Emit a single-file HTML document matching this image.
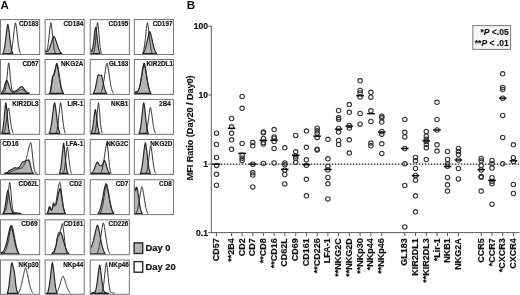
<!DOCTYPE html>
<html><head><meta charset="utf-8"><title>Figure</title>
<style>
html,body{margin:0;padding:0;background:#fff;}
body{width:520px;height:295px;overflow:hidden;font-family:"Liberation Sans",sans-serif;}
svg{display:block;}
</style></head><body>
<svg width="520" height="295" viewBox="0 0 520 295">
<defs><filter id="bl" x="0" y="0" width="520" height="295" filterUnits="userSpaceOnUse"><feGaussianBlur stdDeviation="0.4"/></filter></defs>
<g filter="url(#bl)">
<rect x="0" y="0" width="520" height="295" fill="#fff"/>
<g>
<rect x="0.55" y="19.60" width="39.10" height="34.90" fill="#fff" stroke="#757575" stroke-width="1"/>
<clipPath id="c0_0"><rect x="0.95" y="20.00" width="38.30" height="34.10"/></clipPath>
<g clip-path="url(#c0_0)">
<path d="M2.80 53.50L2.80 53.50L3.05 52.89L3.30 52.42L3.55 51.76L3.80 50.94L4.05 49.97L4.30 48.83L4.55 47.52L4.80 46.02L5.05 44.34L5.30 42.50L5.55 40.52L5.80 38.42L6.05 36.26L6.30 34.10L6.55 31.99L6.80 30.00L7.05 28.20L7.30 26.65L7.55 25.39L7.80 24.46L8.05 24.98L8.30 26.11L8.55 27.55L8.80 29.25L9.05 31.17L9.30 33.24L9.55 35.39L9.80 37.56L10.05 39.69L10.30 41.72L10.55 43.63L10.80 45.37L11.05 46.94L11.30 48.33L11.55 49.54L11.80 50.58L12.05 51.45L12.30 52.17L12.55 52.73L12.80 53.50L12.80 53.50Z" fill="#b4b4b4" stroke="#222" stroke-width="1.15" stroke-linejoin="round"/>
<path d="M10.55 53.50L10.80 52.58L11.05 51.95L11.30 51.15L11.55 50.18L11.80 49.04L12.05 47.72L12.30 46.21L12.55 44.50L12.80 42.61L13.05 40.56L13.30 38.37L13.55 36.10L13.80 33.79L14.05 31.51L14.30 29.34L14.55 27.34L14.80 25.58L15.05 24.11L15.30 22.98L15.55 22.80L15.80 23.86L16.05 25.26L16.30 26.97L16.55 28.92L16.80 31.07L17.05 33.33L17.30 35.64L17.55 37.92L17.80 40.13L18.05 42.21L18.30 44.14L18.55 45.88L18.80 47.43L19.05 48.79L19.30 49.97L19.55 50.97L19.80 51.80L20.05 52.47L20.30 53.50" fill="none" stroke="#262626" stroke-width="0.95" stroke-linejoin="round"/>
</g>
<text x="38.65" y="26.20" font-family="Liberation Sans, sans-serif" font-weight="bold" font-size="6.35" fill="#111" stroke="#111" stroke-width="0.15" text-anchor="end">CD183</text>
<rect x="45.15" y="19.60" width="39.10" height="34.90" fill="#fff" stroke="#757575" stroke-width="1"/>
<clipPath id="c1_0"><rect x="45.55" y="20.00" width="38.30" height="34.10"/></clipPath>
<g clip-path="url(#c1_0)">
<path d="M45.15 53.50L45.15 50.43L45.40 50.55L45.65 50.73L45.90 50.96L46.15 51.23L46.40 51.05L46.65 51.15L46.90 51.20L47.15 51.21L47.40 51.15L47.65 51.02L47.90 50.83L48.15 50.57L48.40 50.24L48.65 49.85L48.90 49.44L49.15 48.86L49.40 48.25L49.65 47.60L49.90 46.92L50.15 46.20L50.40 45.46L50.65 44.70L50.90 43.92L51.15 43.14L51.40 42.35L51.65 41.58L51.90 40.83L52.15 40.11L52.40 39.42L52.65 38.79L52.90 38.21L53.15 37.69L53.40 37.23L53.65 36.86L53.90 36.55L54.15 36.73L54.40 37.07L54.65 37.50L54.90 37.99L55.15 38.55L55.40 39.16L55.65 39.83L55.90 40.54L56.15 41.28L56.40 42.04L56.65 42.82L56.90 43.61L57.15 44.39L57.40 45.16L57.65 45.91L57.90 46.64L58.15 47.33L58.40 48.00L58.65 48.62L58.90 49.21L59.15 49.76L59.40 50.27L59.65 50.74L59.90 51.16L60.15 51.55L60.40 51.90L60.65 52.22L60.90 52.50L61.15 52.75L61.40 52.96L61.65 53.13L61.90 53.50L61.90 53.50Z" fill="#b4b4b4" stroke="#222" stroke-width="1.15" stroke-linejoin="round"/>
<path d="M45.15 51.45L45.40 51.56L45.65 51.71L45.90 51.91L46.15 52.14L46.40 51.66L46.65 51.30L46.90 50.71L47.15 49.91L47.40 48.88L47.65 47.61L47.90 46.10L48.15 44.34L48.40 42.36L48.65 40.14L48.90 37.78L49.15 35.33L49.40 32.87L49.65 30.48L49.90 28.24L50.15 26.24L50.40 24.55L50.65 23.23L50.90 22.64L51.15 23.71L51.40 25.18L51.65 27.00L51.90 29.11L52.15 31.42L52.40 33.85L52.65 36.32L52.90 38.74L53.15 41.05L53.40 43.20L53.65 45.16L53.90 46.90L54.15 48.42L54.40 49.73L54.65 50.83L54.90 51.74L55.15 52.46L55.40 53.50" fill="none" stroke="#262626" stroke-width="0.95" stroke-linejoin="round"/>
</g>
<text x="83.25" y="26.20" font-family="Liberation Sans, sans-serif" font-weight="bold" font-size="6.35" fill="#111" stroke="#111" stroke-width="0.15" text-anchor="end">CD184</text>
<rect x="90.25" y="19.60" width="39.10" height="34.90" fill="#fff" stroke="#757575" stroke-width="1"/>
<clipPath id="c2_0"><rect x="90.65" y="20.00" width="38.30" height="34.10"/></clipPath>
<g clip-path="url(#c2_0)">
<path d="M90.25 53.50L90.25 49.93L90.50 49.46L90.75 49.71L91.00 50.32L91.25 51.09L91.50 51.26L91.75 51.36L92.00 51.09L92.25 50.48L92.50 49.57L92.75 48.23L93.00 46.69L93.25 44.93L93.50 42.97L93.75 40.86L94.00 38.64L94.25 36.38L94.50 34.18L94.75 32.11L95.00 30.27L95.25 28.75L95.50 27.59L95.75 27.40L96.00 28.48L96.25 29.94L96.50 31.72L96.75 33.75L97.00 35.94L97.25 38.19L97.50 40.42L97.75 42.56L98.00 44.55L98.25 46.35L98.50 47.94L98.75 49.32L99.00 50.48L99.25 51.45L99.50 52.23L99.75 52.82L100.00 53.50L100.00 53.50Z" fill="#b4b4b4" stroke="#222" stroke-width="1.15" stroke-linejoin="round"/>
<path d="M93.50 53.50L93.75 52.70L94.00 51.94L94.25 50.92L94.50 49.64L94.75 48.09L95.00 46.24L95.25 44.09L95.50 41.66L95.75 39.01L96.00 36.19L96.25 33.31L96.50 30.49L96.75 27.88L97.00 25.60L97.25 23.77L97.50 22.46L97.75 23.18L98.00 24.81L98.25 26.92L98.50 29.42L98.75 32.17L99.00 35.03L99.25 37.89L99.50 40.63L99.75 43.15L100.00 45.41L100.25 47.38L100.50 49.05L100.75 50.44L101.00 51.57L101.25 52.43L101.50 53.50" fill="none" stroke="#262626" stroke-width="0.95" stroke-linejoin="round"/>
</g>
<text x="128.35" y="26.20" font-family="Liberation Sans, sans-serif" font-weight="bold" font-size="6.35" fill="#111" stroke="#111" stroke-width="0.15" text-anchor="end">CD195</text>
<rect x="134.35" y="19.60" width="39.10" height="34.90" fill="#fff" stroke="#757575" stroke-width="1"/>
<clipPath id="c3_0"><rect x="134.75" y="20.00" width="38.30" height="34.10"/></clipPath>
<g clip-path="url(#c3_0)">
<path d="M142.85 53.50L142.85 53.50L143.10 53.04L143.35 52.79L143.60 52.47L143.85 52.08L144.10 51.63L144.35 51.13L144.60 50.55L144.85 49.91L145.10 49.21L145.35 48.43L145.60 47.57L145.85 46.65L146.10 45.67L146.35 44.62L146.60 43.53L146.85 42.39L147.10 41.22L147.35 40.04L147.60 38.86L147.85 37.71L148.10 36.59L148.35 35.54L148.60 34.56L148.85 33.68L149.10 32.91L149.35 32.26L149.60 31.73L149.85 31.65L150.10 32.14L150.35 32.77L150.60 33.52L150.85 34.38L151.10 35.34L151.35 36.38L151.60 37.48L151.85 38.63L152.10 39.80L152.35 40.98L152.60 42.16L152.85 43.30L153.10 44.41L153.35 45.46L153.60 46.46L153.85 47.40L154.10 48.26L154.35 49.05L154.60 49.78L154.85 50.43L155.10 51.02L155.35 51.54L155.60 52.00L155.85 52.39L156.10 52.73L156.35 53.00L156.60 53.50L156.60 53.50Z" fill="#b4b4b4" stroke="#222" stroke-width="1.15" stroke-linejoin="round"/>
<path d="M142.60 53.50L142.85 52.78L143.10 52.21L143.35 51.44L143.60 50.50L143.85 49.38L144.10 48.07L144.35 46.55L144.60 44.82L144.85 42.90L145.10 40.80L145.35 38.55L145.60 36.20L145.85 33.82L146.10 31.47L146.35 29.23L146.60 27.18L146.85 25.38L147.10 23.91L147.35 22.81L147.60 23.00L147.85 24.18L148.10 25.72L148.35 27.57L148.60 29.66L148.85 31.93L149.10 34.30L149.35 36.68L149.60 39.01L149.85 41.23L150.10 43.30L150.35 45.18L150.60 46.87L150.85 48.34L151.10 49.62L151.35 50.71L151.60 51.61L151.85 52.34L152.10 53.50" fill="none" stroke="#262626" stroke-width="0.95" stroke-linejoin="round"/>
</g>
<text x="172.45" y="26.20" font-family="Liberation Sans, sans-serif" font-weight="bold" font-size="6.35" fill="#111" stroke="#111" stroke-width="0.15" text-anchor="end">CD197</text>
<rect x="0.55" y="59.50" width="39.10" height="34.90" fill="#fff" stroke="#757575" stroke-width="1"/>
<clipPath id="c0_1"><rect x="0.95" y="59.90" width="38.30" height="34.10"/></clipPath>
<g clip-path="url(#c0_1)">
<path d="M1.30 93.40L1.30 93.35L1.55 92.97L1.80 92.72L2.05 92.42L2.30 92.05L2.55 91.63L2.80 91.15L3.05 90.60L3.30 89.98L3.55 89.30L3.80 88.56L4.05 87.76L4.30 86.92L4.55 86.04L4.80 85.15L5.05 84.27L5.30 83.41L5.55 82.60L5.80 81.86L6.05 81.21L6.30 80.67L6.55 80.24L6.80 80.25L7.05 80.61L7.30 81.07L7.55 81.64L7.80 82.30L8.05 83.02L8.30 83.79L8.55 84.58L8.80 85.38L9.05 86.15L9.30 86.90L9.55 87.60L9.80 88.24L10.05 88.83L10.30 89.35L10.55 89.81L10.80 90.21L11.05 90.55L11.30 90.83L11.55 91.06L11.80 91.23L12.05 91.53L12.30 91.49L12.55 91.46L12.80 91.42L13.05 91.40L13.30 91.37L13.55 91.35L13.80 91.37L14.05 91.40L14.30 91.28L14.55 91.24L14.80 91.19L15.05 91.12L15.30 91.05L15.55 90.97L15.80 90.87L16.05 90.76L16.30 90.64L16.55 90.50L16.80 90.35L17.05 90.18L17.30 90.00L17.55 89.81L17.80 89.60L18.05 89.38L18.30 89.14L18.55 88.90L18.80 88.66L19.05 88.41L19.30 88.17L19.55 87.92L19.80 87.69L20.05 87.47L20.30 87.27L20.55 87.08L20.80 86.92L21.05 86.78L21.30 86.67L21.55 86.59L21.80 86.65L22.05 86.82L22.30 87.02L22.55 87.25L22.80 87.50L23.05 87.77L23.30 88.06L23.55 88.36L23.80 88.68L24.05 89.00L24.30 89.33L24.55 89.66L24.80 89.98L25.05 90.30L25.30 90.60L25.55 90.89L25.80 91.17L26.05 91.47L26.30 91.71L26.55 91.93L26.80 92.13L27.05 92.32L27.30 92.49L27.55 92.64L27.80 92.78L28.05 92.91L28.30 93.02L28.55 93.11L28.80 93.20L29.05 93.26L29.05 93.40Z" fill="#b4b4b4" stroke="#222" stroke-width="1.15" stroke-linejoin="round"/>
<path d="M1.55 93.31L1.80 93.24L2.05 93.16L2.30 93.03L2.55 92.90L2.80 92.76L3.05 92.59L3.30 92.40L3.55 92.18L3.80 91.96L4.05 91.71L4.30 91.46L4.55 91.21L4.80 90.96L5.05 90.09L5.30 89.20L5.55 88.06L5.80 86.69L6.05 85.07L6.30 83.35L6.55 81.36L6.80 79.13L7.05 76.68L7.30 74.11L7.55 71.51L7.80 69.01L8.05 66.74L8.30 64.83L8.55 63.40L8.80 62.85L9.05 64.28L9.30 66.22L9.55 68.58L9.80 71.24L10.05 74.07L10.30 76.91L10.55 79.64L10.80 82.22L11.05 84.45L11.30 86.38L11.55 88.02L11.80 89.37L12.05 90.45L12.30 91.26L12.55 92.24L12.80 92.21L13.05 92.18L13.30 92.16L13.55 92.14L13.80 92.12L14.05 92.01L14.30 91.96L14.55 91.91L14.80 91.87L15.05 91.84L15.30 91.79L15.55 91.75L15.80 91.70L16.05 91.64L16.30 91.58L16.55 91.51L16.80 91.44L17.05 91.37L17.30 91.28L17.55 91.20L17.80 91.10L18.05 91.01L18.30 90.90L18.55 90.80L18.80 90.69L19.05 90.59L19.30 90.48L19.55 90.38L19.80 90.27L20.05 90.18L20.30 90.09L20.55 90.00L20.80 89.93L21.05 89.86L21.30 89.81L21.55 89.77L21.80 89.74L22.05 89.76L22.30 89.85L22.55 89.95L22.80 90.06L23.05 90.18L23.30 90.31L23.55 90.45L23.80 90.60L24.05 90.76L24.30 90.91L24.55 91.07L24.80 91.24L25.05 91.40L25.30 91.56L25.55 91.71L25.80 91.87L26.05 92.01L26.30 92.15L26.55 92.29L26.80 92.41L27.05 92.55L27.30 92.66L27.55 92.75L27.80 92.84L28.05 92.92L28.30 93.00L28.55 93.06L28.80 93.13L29.05 93.18L29.30 93.23L29.55 93.27" fill="none" stroke="#262626" stroke-width="0.95" stroke-linejoin="round"/>
</g>
<text x="38.65" y="66.10" font-family="Liberation Sans, sans-serif" font-weight="bold" font-size="6.35" fill="#111" stroke="#111" stroke-width="0.15" text-anchor="end">CD57</text>
<rect x="45.15" y="59.50" width="39.10" height="34.90" fill="#fff" stroke="#757575" stroke-width="1"/>
<clipPath id="c1_1"><rect x="45.55" y="59.90" width="38.30" height="34.10"/></clipPath>
<g clip-path="url(#c1_1)">
<path d="M49.15 93.40L49.15 93.40L49.40 93.17L49.65 92.89L49.90 92.48L50.15 91.95L50.40 90.46L50.65 89.25L50.90 87.81L51.15 86.20L51.40 84.45L51.65 82.64L51.90 80.84L52.15 79.12L52.40 77.53L52.65 76.64L52.90 76.02L53.15 75.52L53.40 75.06L53.65 74.58L53.90 74.03L54.15 73.36L54.40 72.55L54.65 71.62L54.90 70.58L55.15 69.47L55.40 68.33L55.65 67.30L55.90 66.07L56.15 65.01L56.40 64.12L56.65 63.42L56.90 63.54L57.15 64.28L57.40 65.21L57.65 66.30L57.90 67.56L58.15 68.94L58.40 70.44L58.65 72.01L58.90 73.65L59.15 75.30L59.40 76.96L59.65 78.59L59.90 80.17L60.15 81.69L60.40 83.13L60.65 84.49L60.90 85.74L61.15 86.90L61.40 87.95L61.65 88.90L61.90 89.75L62.15 90.51L62.40 91.18L62.65 91.76L62.90 92.25L63.15 92.65L63.40 93.40L63.40 93.40Z" fill="#b4b4b4" stroke="#222" stroke-width="1.15" stroke-linejoin="round"/>
<path d="M49.65 93.40L49.90 93.07L50.15 92.68L50.40 92.15L50.65 90.73L50.90 89.46L51.15 87.93L51.40 86.19L51.65 84.31L51.90 82.38L52.15 80.51L52.40 78.78L52.65 77.55L52.90 76.97L53.15 76.55L53.40 76.21L53.65 75.85L53.90 75.39L54.15 74.76L54.40 73.95L54.65 72.96L54.90 71.84L55.15 70.61L55.40 69.46L55.65 68.02L55.90 66.73L56.15 65.61L56.40 64.67L56.65 63.94L56.90 64.07L57.15 64.84L57.40 65.82L57.65 66.97L57.90 68.30L58.15 69.76L58.40 71.33L58.65 72.98L58.90 74.68L59.15 76.39L59.40 78.09L59.65 79.75L59.90 81.35L60.15 82.86L60.40 84.29L60.65 85.61L60.90 86.82L61.15 87.92L61.40 88.91L61.65 89.80L61.90 90.58L62.15 91.27L62.40 91.86L62.65 92.35L62.90 92.73L63.15 93.40" fill="none" stroke="#262626" stroke-width="0.95" stroke-linejoin="round"/>
</g>
<text x="83.25" y="66.10" font-family="Liberation Sans, sans-serif" font-weight="bold" font-size="6.35" fill="#111" stroke="#111" stroke-width="0.15" text-anchor="end">NKG2A</text>
<rect x="90.25" y="59.50" width="39.10" height="34.90" fill="#fff" stroke="#757575" stroke-width="1"/>
<clipPath id="c2_1"><rect x="90.65" y="59.90" width="38.30" height="34.10"/></clipPath>
<g clip-path="url(#c2_1)">
<path d="M93.25 93.40L93.25 93.40L93.50 92.87L93.75 92.52L94.00 92.07L94.25 91.53L94.50 90.90L94.75 90.17L95.00 89.33L95.25 88.38L95.50 87.34L95.75 86.22L96.00 85.04L96.25 83.82L96.50 82.61L96.75 81.06L97.00 79.69L97.25 78.36L97.50 77.10L97.75 75.93L98.00 75.03L98.25 74.86L98.50 74.79L98.75 74.80L99.00 74.86L99.25 74.94L99.50 75.04L99.75 75.13L100.00 75.19L100.25 75.23L100.50 75.26L100.75 75.28L101.00 75.32L101.25 75.40L101.50 75.54L101.75 76.05L102.00 77.07L102.25 78.16L102.50 79.31L102.75 80.68L103.00 81.73L103.25 82.85L103.50 83.99L103.75 85.13L104.00 86.23L104.25 87.29L104.50 88.27L104.75 89.17L105.00 89.98L105.25 90.69L105.50 91.32L105.75 91.85L106.00 92.31L106.25 92.69L106.50 92.98L106.75 93.40L106.75 93.40Z" fill="#b4b4b4" stroke="#222" stroke-width="1.15" stroke-linejoin="round"/>
<path d="M100.50 93.40L100.75 92.78L101.00 92.42L101.25 91.94L101.50 91.36L101.75 90.68L102.00 89.91L102.25 89.03L102.50 88.04L102.75 86.94L103.00 85.73L103.25 84.41L103.50 82.98L103.75 81.45L104.00 79.84L104.25 78.17L104.50 76.45L104.75 74.70L105.00 72.97L105.25 71.28L105.50 69.66L105.75 68.15L106.00 66.78L106.25 65.56L106.50 64.53L106.75 63.70L107.00 63.31L107.25 64.01L107.50 64.92L107.75 66.03L108.00 67.31L108.25 68.74L108.50 70.30L108.75 71.95L109.00 73.66L109.25 75.40L109.50 77.14L109.75 78.84L110.00 80.50L110.25 82.08L110.50 83.56L110.75 84.95L111.00 86.23L111.25 87.39L111.50 88.45L111.75 89.39L112.00 90.23L112.25 90.96L112.50 91.60L112.75 92.14L113.00 92.58L113.25 93.40" fill="none" stroke="#262626" stroke-width="0.95" stroke-linejoin="round"/>
</g>
<text x="128.35" y="66.10" font-family="Liberation Sans, sans-serif" font-weight="bold" font-size="6.35" fill="#111" stroke="#111" stroke-width="0.15" text-anchor="end">GL183</text>
<rect x="134.35" y="59.50" width="39.10" height="34.90" fill="#fff" stroke="#757575" stroke-width="1"/>
<clipPath id="c3_1"><rect x="134.75" y="59.90" width="38.30" height="34.10"/></clipPath>
<g clip-path="url(#c3_1)">
<path d="M134.35 93.40L134.35 92.50L134.60 92.40L134.85 92.31L135.10 92.22L135.35 92.13L135.60 92.05L135.85 91.97L136.10 91.90L136.35 91.84L136.60 91.80L136.85 91.76L137.10 91.80L137.35 91.84L137.60 91.90L137.85 91.07L138.10 90.71L138.35 90.27L138.60 89.74L138.85 89.13L139.10 88.43L139.35 87.63L139.60 86.73L139.85 85.73L140.10 84.62L140.35 83.41L140.60 82.10L140.85 80.69L141.10 79.21L141.35 77.66L141.60 76.07L141.85 74.46L142.10 72.85L142.35 71.27L142.60 69.76L142.85 68.33L143.10 67.04L143.35 65.85L143.60 64.82L143.85 63.96L144.10 63.30L144.35 63.68L144.60 64.45L144.85 65.41L145.10 66.54L145.35 67.82L145.60 69.23L145.85 70.75L146.10 72.34L146.35 73.98L146.60 75.63L146.85 77.29L147.10 78.91L147.35 80.48L147.60 81.99L147.85 83.41L148.10 84.75L148.35 85.98L148.60 87.12L148.85 88.15L149.10 89.08L149.35 89.91L149.60 90.65L149.85 91.30L150.10 91.87L150.35 92.34L150.60 92.71L150.85 93.40L150.85 93.40Z" fill="#b4b4b4" stroke="#222" stroke-width="1.15" stroke-linejoin="round"/>
<path d="M134.35 92.50L134.60 92.40L134.85 92.31L135.10 92.22L135.35 92.13L135.60 92.05L135.85 91.97L136.10 91.90L136.35 91.84L136.60 91.80L136.85 91.76L137.10 91.80L137.35 91.84L137.60 91.90L137.85 91.07L138.10 90.71L138.35 90.27L138.60 89.74L138.85 89.13L139.10 88.43L139.35 87.63L139.60 86.73L139.85 85.73L140.10 84.62L140.35 83.41L140.60 82.10L140.85 80.69L141.10 79.21L141.35 77.66L141.60 76.07L141.85 74.46L142.10 72.85L142.35 71.27L142.60 69.76L142.85 68.33L143.10 67.04L143.35 65.85L143.60 64.82L143.85 63.96L144.10 63.30L144.35 63.68L144.60 64.45L144.85 65.41L145.10 66.54L145.35 67.82L145.60 69.23L145.85 70.75L146.10 72.34L146.35 73.98L146.60 75.63L146.85 77.29L147.10 78.91L147.35 80.48L147.60 81.99L147.85 83.41L148.10 84.75L148.35 85.98L148.60 87.12L148.85 88.15L149.10 89.08L149.35 89.91L149.60 90.65L149.85 91.30L150.10 91.87L150.35 92.34L150.60 92.71L150.85 93.40" fill="none" stroke="#262626" stroke-width="0.95" stroke-linejoin="round"/>
</g>
<text x="172.95" y="66.10" font-family="Liberation Sans, sans-serif" font-weight="bold" font-size="6.35" fill="#111" stroke="#111" stroke-width="0.15" text-anchor="end">KIR2DL1</text>
<rect x="0.55" y="99.40" width="39.10" height="34.90" fill="#fff" stroke="#757575" stroke-width="1"/>
<clipPath id="c0_2"><rect x="0.95" y="99.80" width="38.30" height="34.10"/></clipPath>
<g clip-path="url(#c0_2)">
<path d="M1.80 133.30L1.80 133.30L2.05 132.51L2.30 131.77L2.55 130.77L2.80 129.51L3.05 127.97L3.30 126.16L3.55 124.04L3.80 121.66L4.05 119.04L4.30 116.27L4.55 113.44L4.80 110.67L5.05 108.10L5.30 105.86L5.55 104.06L5.80 102.77L6.05 103.48L6.30 105.08L6.55 107.16L6.80 109.61L7.05 112.32L7.30 115.14L7.55 117.95L7.80 120.64L8.05 123.12L8.30 125.35L8.55 127.28L8.80 128.93L9.05 130.29L9.30 131.40L9.55 132.25L9.80 133.30L9.80 133.30Z" fill="#b4b4b4" stroke="#222" stroke-width="1.15" stroke-linejoin="round"/>
<path d="M3.80 133.30L4.05 132.34L4.30 131.74L4.55 131.00L4.80 130.10L5.05 129.05L5.30 127.83L5.55 126.44L5.80 124.88L6.05 123.18L6.30 121.34L6.55 119.42L6.80 117.46L7.05 115.51L7.30 113.63L7.55 111.90L7.80 110.38L8.05 109.11L8.30 108.13L8.55 107.98L8.80 108.89L9.05 110.10L9.30 111.58L9.55 113.27L9.80 115.12L10.05 117.06L10.30 119.03L10.55 120.97L10.80 122.82L11.05 124.55L11.30 126.14L11.55 127.56L11.80 128.82L12.05 129.90L12.30 130.83L12.55 131.60L12.80 132.23L13.05 132.71L13.30 133.30" fill="none" stroke="#262626" stroke-width="0.95" stroke-linejoin="round"/>
</g>
<text x="38.65" y="106.00" font-family="Liberation Sans, sans-serif" font-weight="bold" font-size="6.35" fill="#111" stroke="#111" stroke-width="0.15" text-anchor="end">KIR2DL3</text>
<rect x="45.15" y="99.40" width="39.10" height="34.90" fill="#fff" stroke="#757575" stroke-width="1"/>
<clipPath id="c1_2"><rect x="45.55" y="99.80" width="38.30" height="34.10"/></clipPath>
<g clip-path="url(#c1_2)">
<path d="M49.15 133.30L49.15 133.30L49.40 132.48L49.65 131.95L49.90 131.27L50.15 130.46L50.40 129.51L50.65 128.42L50.90 127.17L51.15 125.76L51.40 124.19L51.65 122.47L51.90 120.62L52.15 118.66L52.40 116.62L52.65 114.54L52.90 112.46L53.15 110.45L53.40 108.55L53.65 106.82L53.90 105.29L54.15 104.02L54.40 103.03L54.65 102.87L54.90 103.80L55.15 105.02L55.40 106.49L55.65 108.19L55.90 110.06L56.15 112.06L56.40 114.12L56.65 116.20L56.90 118.26L57.15 120.24L57.40 122.11L57.65 123.86L57.90 125.45L58.15 126.90L58.40 128.18L58.65 129.31L58.90 130.29L59.15 131.12L59.40 131.82L59.65 132.39L59.90 133.30L59.90 133.30Z" fill="#b4b4b4" stroke="#222" stroke-width="1.15" stroke-linejoin="round"/>
<path d="M56.15 133.30L56.40 132.14L56.65 131.39L56.90 130.45L57.15 129.32L57.40 127.99L57.65 126.44L57.90 124.67L58.15 122.69L58.40 120.53L58.65 118.21L58.90 115.80L59.15 113.36L59.40 110.97L59.65 108.71L59.90 106.68L60.15 104.94L60.40 103.56L60.65 102.58L60.90 103.56L61.15 104.94L61.40 106.68L61.65 108.71L61.90 110.97L62.15 113.36L62.40 115.80L62.65 118.21L62.90 120.53L63.15 122.69L63.40 124.67L63.65 126.44L63.90 127.99L64.15 129.32L64.40 130.45L64.65 131.39L64.90 132.14L65.15 133.30" fill="none" stroke="#262626" stroke-width="0.95" stroke-linejoin="round"/>
</g>
<text x="83.25" y="106.00" font-family="Liberation Sans, sans-serif" font-weight="bold" font-size="6.35" fill="#111" stroke="#111" stroke-width="0.15" text-anchor="end">LIR-1</text>
<rect x="90.25" y="99.40" width="39.10" height="34.90" fill="#fff" stroke="#757575" stroke-width="1"/>
<clipPath id="c2_2"><rect x="90.65" y="99.80" width="38.30" height="34.10"/></clipPath>
<g clip-path="url(#c2_2)">
<path d="M91.25 133.30L91.25 133.30L91.50 132.48L91.75 131.84L92.00 131.03L92.25 130.02L92.50 128.81L92.75 127.39L93.00 125.76L93.25 123.94L93.50 121.95L93.75 119.86L94.00 117.72L94.25 115.64L94.50 113.69L94.75 111.98L95.00 110.58L95.25 109.54L95.50 109.72L95.75 110.83L96.00 112.30L96.25 114.07L96.50 116.05L96.75 118.15L97.00 120.28L97.25 122.36L97.50 124.32L97.75 126.10L98.00 127.69L98.25 129.07L98.50 130.24L98.75 131.20L99.00 131.99L99.25 132.59L99.50 133.30L99.50 133.30Z" fill="#b4b4b4" stroke="#222" stroke-width="1.15" stroke-linejoin="round"/>
<path d="M94.75 133.30L95.00 132.39L95.25 131.51L95.50 130.33L95.75 128.84L96.00 127.01L96.25 124.85L96.50 122.35L96.75 119.56L97.00 116.56L97.25 113.49L97.50 110.49L97.75 107.73L98.00 105.38L98.25 103.57L98.50 102.79L98.75 104.22L99.00 106.26L99.25 108.79L99.50 111.67L99.75 114.72L100.00 117.78L100.25 120.70L100.50 123.39L100.75 125.76L101.00 127.78L101.25 129.47L101.50 130.83L101.75 131.90L102.00 132.64L102.25 133.30" fill="none" stroke="#262626" stroke-width="0.95" stroke-linejoin="round"/>
</g>
<text x="128.35" y="106.00" font-family="Liberation Sans, sans-serif" font-weight="bold" font-size="6.35" fill="#111" stroke="#111" stroke-width="0.15" text-anchor="end">NKB1</text>
<rect x="134.35" y="99.40" width="39.10" height="34.90" fill="#fff" stroke="#757575" stroke-width="1"/>
<clipPath id="c3_2"><rect x="134.75" y="99.80" width="38.30" height="34.10"/></clipPath>
<g clip-path="url(#c3_2)">
<path d="M139.10 133.30L139.10 133.30L139.35 132.50L139.60 131.86L139.85 131.04L140.10 130.02L140.35 128.81L140.60 127.39L140.85 125.76L141.10 123.90L141.35 121.85L141.60 119.62L141.85 117.26L142.10 114.82L142.35 112.39L142.60 110.05L142.85 107.87L143.10 105.95L143.35 104.35L143.60 103.12L143.85 102.92L144.10 104.07L144.35 105.60L144.60 107.46L144.85 109.60L145.10 111.91L145.35 114.34L145.60 116.77L145.85 119.16L146.10 121.42L146.35 123.51L146.60 125.40L146.85 127.08L147.10 128.55L147.35 129.80L147.60 130.85L147.85 131.71L148.10 132.39L148.35 133.30L148.35 133.30Z" fill="#b4b4b4" stroke="#222" stroke-width="1.15" stroke-linejoin="round"/>
<path d="M145.60 133.30L145.85 132.43L146.10 131.87L146.35 131.17L146.60 130.33L146.85 129.34L147.10 128.19L147.35 126.89L147.60 125.42L147.85 123.80L148.10 122.05L148.35 120.19L148.60 118.27L148.85 116.32L149.10 114.42L149.35 112.62L149.60 110.97L149.85 109.53L150.10 108.35L150.35 107.46L150.60 107.61L150.85 108.57L151.10 109.80L151.35 111.28L151.60 112.97L151.85 114.80L152.10 116.71L152.35 118.65L152.60 120.57L152.85 122.41L153.10 124.14L153.35 125.73L153.60 127.16L153.85 128.44L154.10 129.55L154.35 130.51L154.60 131.32L154.85 131.99L155.10 132.52L155.35 133.30" fill="none" stroke="#262626" stroke-width="0.95" stroke-linejoin="round"/>
</g>
<text x="170.75" y="106.00" font-family="Liberation Sans, sans-serif" font-weight="bold" font-size="6.35" fill="#111" stroke="#111" stroke-width="0.15" text-anchor="end">2B4</text>
<rect x="0.55" y="139.50" width="39.10" height="34.90" fill="#fff" stroke="#757575" stroke-width="1"/>
<clipPath id="c0_3"><rect x="0.95" y="139.90" width="38.30" height="34.10"/></clipPath>
<g clip-path="url(#c0_3)">
<path d="M5.05 173.40L5.05 173.29L5.30 173.24L5.55 173.17L5.80 173.10L6.05 173.02L6.30 172.92L6.55 172.81L6.80 172.69L7.05 172.56L7.30 172.42L7.55 172.27L7.80 172.00L8.05 171.79L8.30 171.57L8.55 171.34L8.80 171.12L9.05 170.89L9.30 170.67L9.55 170.46L9.80 170.35L10.05 170.24L10.30 170.13L10.55 170.03L10.80 169.92L11.05 169.81L11.30 169.70L11.55 169.57L11.80 169.44L12.05 169.29L12.30 169.14L12.55 168.98L12.80 168.82L13.05 168.65L13.30 168.50L13.55 168.35L13.80 168.22L14.05 168.11L14.30 167.83L14.55 167.71L14.80 167.72L15.05 167.74L15.30 167.78L15.55 167.82L15.80 167.87L16.05 167.93L16.30 167.99L16.55 168.04L16.80 168.08L17.05 168.10L17.30 168.11L17.55 168.09L17.80 168.05L18.05 167.98L18.30 167.89L18.55 167.76L18.80 167.61L19.05 167.44L19.30 167.24L19.55 167.03L19.80 166.49L20.05 166.14L20.30 165.77L20.55 165.38L20.80 164.97L21.05 164.56L21.30 164.14L21.55 163.79L21.80 163.33L22.05 162.89L22.30 162.46L22.55 162.24L22.80 162.09L23.05 161.95L23.30 161.82L23.55 161.71L23.80 161.60L24.05 161.50L24.30 161.41L24.55 161.31L24.80 161.22L25.05 161.13L25.30 161.03L25.55 160.94L25.80 160.83L26.05 160.73L26.30 160.62L26.55 160.52L26.80 160.41L27.05 160.31L27.30 160.21L27.55 160.13L27.80 160.05L28.05 159.99L28.30 159.94L28.55 159.91L28.80 159.91L29.05 160.13L29.30 160.78L29.55 161.58L29.80 162.50L30.05 163.53L30.30 164.61L30.55 165.85L30.80 166.89L31.05 167.88L31.30 168.82L31.55 169.68L31.80 170.45L32.05 171.13L32.30 171.71L32.55 172.20L32.80 172.60L33.05 172.92L33.30 173.40L33.30 173.40Z" fill="#b4b4b4" stroke="#222" stroke-width="1.15" stroke-linejoin="round"/>
<path d="M3.55 173.27L3.80 173.25L4.05 173.23L4.30 173.20L4.55 173.17L4.80 173.15L5.05 173.12L5.30 173.08L5.55 173.05L5.80 173.02L6.05 172.98L6.30 172.94L6.55 172.90L6.80 172.85L7.05 172.81L7.30 172.76L7.55 172.71L7.80 172.66L8.05 172.61L8.30 172.56L8.55 172.50L8.80 172.45L9.05 172.39L9.30 172.33L9.55 172.27L9.80 172.09L10.05 172.00L10.30 171.91L10.55 171.82L10.80 171.72L11.05 171.62L11.30 171.52L11.55 171.41L11.80 171.31L12.05 171.20L12.30 171.09L12.55 170.99L12.80 170.88L13.05 170.77L13.30 170.65L13.55 170.54L13.80 170.43L14.05 170.32L14.30 170.21L14.55 170.09L14.80 170.02L15.05 169.94L15.30 169.87L15.55 169.79L15.80 169.72L16.05 169.64L16.30 169.57L16.55 169.49L16.80 169.42L17.05 169.34L17.30 169.27L17.55 169.19L17.80 169.12L18.05 169.04L18.30 168.97L18.55 168.90L18.80 168.82L19.05 168.75L19.30 168.68L19.55 168.61L19.80 168.55L20.05 168.48L20.30 168.42L20.55 168.36L20.80 168.30L21.05 168.25L21.30 168.20L21.55 168.15L21.80 168.10L22.05 168.07L22.30 168.03L22.55 167.35L22.80 167.06L23.05 166.71L23.30 166.31L23.55 165.87L23.80 165.46L24.05 165.01L24.30 164.51L24.55 163.96L24.80 163.36L25.05 162.70L25.30 161.99L25.55 161.23L25.80 160.41L26.05 159.54L26.30 158.61L26.55 157.65L26.80 156.63L27.05 155.62L27.30 154.54L27.55 153.44L27.80 152.33L28.05 151.22L28.30 150.13L28.55 149.06L28.80 148.03L29.05 147.06L29.30 146.14L29.55 145.30L29.80 144.55L30.05 143.88L30.30 143.32L30.55 142.85L30.80 142.50L31.05 143.28L31.30 144.68L31.55 146.45L31.80 148.52L32.05 150.82L32.30 153.25L32.55 155.73L32.80 158.18L33.05 160.52L33.30 162.69L33.55 164.67L33.80 166.43L34.05 167.97L34.30 169.29L34.55 170.40L34.80 171.31L35.05 172.03L35.30 172.95L35.55 173.00L35.80 173.05L36.05 173.10L36.30 173.14L36.55 173.18L36.80 173.22L37.05 173.25L37.30 173.28" fill="none" stroke="#262626" stroke-width="0.95" stroke-linejoin="round"/>
</g>
<text x="2.25" y="146.10" font-family="Liberation Sans, sans-serif" font-weight="bold" font-size="6.35" fill="#111" stroke="#111" stroke-width="0.15">CD16</text>
<rect x="45.15" y="139.50" width="39.10" height="34.90" fill="#fff" stroke="#757575" stroke-width="1"/>
<clipPath id="c1_3"><rect x="45.55" y="139.90" width="38.30" height="34.10"/></clipPath>
<g clip-path="url(#c1_3)">
<path d="M59.40 173.40L59.40 173.40L59.65 172.73L59.90 172.08L60.15 171.19L60.40 170.07L60.65 168.70L60.90 167.08L61.15 165.19L61.40 163.05L61.65 160.67L61.90 158.11L62.15 155.45L62.40 152.79L62.65 150.23L62.90 147.89L63.15 145.88L63.40 144.30L63.65 143.19L63.90 144.30L64.15 145.88L64.40 147.89L64.65 150.23L64.90 152.79L65.15 155.45L65.40 158.11L65.65 160.67L65.90 163.05L66.15 165.19L66.40 167.08L66.65 168.70L66.90 170.07L67.15 171.19L67.40 172.08L67.65 172.73L67.90 173.40L67.90 173.40Z" fill="#b4b4b4" stroke="#222" stroke-width="1.15" stroke-linejoin="round"/>
<path d="M63.15 173.40L63.40 172.71L63.65 172.10L63.90 171.27L64.15 170.24L64.40 168.99L64.65 167.52L64.90 165.81L65.15 163.87L65.40 161.74L65.65 159.46L65.90 157.11L66.15 154.77L66.40 152.54L66.65 150.53L66.90 148.83L67.15 147.52L67.40 146.94L67.65 148.00L67.90 149.47L68.15 151.31L68.40 153.41L68.65 155.70L68.90 158.06L69.15 160.39L69.40 162.62L69.65 164.67L69.90 166.52L70.15 168.14L70.40 169.52L70.65 170.68L70.90 171.62L71.15 172.37L71.40 173.40" fill="none" stroke="#262626" stroke-width="0.95" stroke-linejoin="round"/>
</g>
<text x="83.25" y="146.10" font-family="Liberation Sans, sans-serif" font-weight="bold" font-size="6.35" fill="#111" stroke="#111" stroke-width="0.15" text-anchor="end">LFA-1</text>
<rect x="90.25" y="139.50" width="39.10" height="34.90" fill="#fff" stroke="#757575" stroke-width="1"/>
<clipPath id="c2_3"><rect x="90.65" y="139.90" width="38.30" height="34.10"/></clipPath>
<g clip-path="url(#c2_3)">
<path d="M91.25 173.40L91.25 173.40L91.50 173.10L91.75 172.93L92.00 172.72L92.25 172.47L92.50 172.18L92.75 171.85L93.00 171.47L93.25 171.05L93.50 170.59L93.75 170.08L94.00 169.52L94.25 168.93L94.50 168.30L94.75 167.65L95.00 166.99L95.25 166.31L95.50 165.65L95.75 165.01L96.00 164.41L96.25 163.79L96.50 163.26L96.75 162.78L97.00 162.37L97.25 162.04L97.50 162.20L97.75 162.44L98.00 162.74L98.25 163.10L98.50 163.51L98.75 163.96L99.00 164.45L99.25 164.95L99.50 165.05L99.75 165.33L100.00 165.54L100.25 165.70L100.50 165.78L100.75 165.79L101.00 165.82L101.25 165.76L101.50 165.61L101.75 165.38L102.00 165.06L102.25 164.67L102.50 164.22L102.75 163.72L103.00 163.18L103.25 162.80L103.50 162.17L103.75 161.60L104.00 161.11L104.25 160.72L104.50 160.43L104.75 160.70L105.00 161.19L105.25 161.79L105.50 162.50L105.75 163.24L106.00 164.04L106.25 164.89L106.50 165.76L106.75 166.62L107.00 167.47L107.25 168.28L107.50 169.04L107.75 169.74L108.00 170.38L108.25 170.95L108.50 171.46L108.75 171.91L109.00 172.29L109.25 172.62L109.50 172.89L109.75 173.09L110.00 173.40L110.00 173.40Z" fill="#b4b4b4" stroke="#222" stroke-width="1.15" stroke-linejoin="round"/>
<path d="M100.50 173.40L100.75 172.77L101.00 172.40L101.25 171.91L101.50 171.32L101.75 170.63L102.00 169.85L102.25 168.95L102.50 167.95L102.75 166.83L103.00 165.60L103.25 164.26L103.50 162.80L103.75 161.25L104.00 159.61L104.25 157.91L104.50 156.16L104.75 154.39L105.00 152.63L105.25 150.91L105.50 149.26L105.75 147.72L106.00 146.32L106.25 145.09L106.50 144.04L106.75 143.20L107.00 142.86L107.25 144.09L107.50 145.79L107.75 147.91L108.00 150.34L108.25 152.98L108.50 155.70L108.75 158.39L109.00 160.96L109.25 163.33L109.50 165.46L109.75 167.33L110.00 168.92L110.25 170.26L110.50 171.35L110.75 172.21L111.00 173.40" fill="none" stroke="#262626" stroke-width="0.95" stroke-linejoin="round"/>
</g>
<text x="128.35" y="146.10" font-family="Liberation Sans, sans-serif" font-weight="bold" font-size="6.35" fill="#111" stroke="#111" stroke-width="0.15" text-anchor="end">NKG2C</text>
<rect x="134.35" y="139.50" width="39.10" height="34.90" fill="#fff" stroke="#757575" stroke-width="1"/>
<clipPath id="c3_3"><rect x="134.75" y="139.90" width="38.30" height="34.10"/></clipPath>
<g clip-path="url(#c3_3)">
<path d="M140.35 173.40L140.35 173.40L140.60 172.38L140.85 171.75L141.10 170.96L141.35 170.01L141.60 168.90L141.85 167.63L142.10 166.17L142.35 164.53L142.60 162.73L142.85 160.77L143.10 158.68L143.35 156.51L143.60 154.30L143.85 152.10L144.10 149.99L144.35 148.02L144.60 146.26L144.85 144.76L145.10 143.55L145.35 142.68L145.60 143.55L145.85 144.76L146.10 146.26L146.35 148.02L146.60 149.99L146.85 152.10L147.10 154.30L147.35 156.51L147.60 158.68L147.85 160.77L148.10 162.73L148.35 164.53L148.60 166.17L148.85 167.63L149.10 168.90L149.35 170.01L149.60 170.96L149.85 171.75L150.10 172.38L150.35 173.40L150.35 173.40Z" fill="#b4b4b4" stroke="#222" stroke-width="1.15" stroke-linejoin="round"/>
<path d="M145.85 173.40L146.10 172.83L146.35 172.37L146.60 171.72L146.85 170.91L147.10 169.94L147.35 168.81L147.60 167.49L147.85 165.99L148.10 164.31L148.35 162.47L148.60 160.49L148.85 158.41L149.10 156.29L149.35 154.18L149.60 152.16L149.85 150.29L150.10 148.64L150.35 147.27L150.60 146.22L150.85 146.05L151.10 147.04L151.35 148.35L151.60 149.94L151.85 151.77L152.10 153.77L152.35 155.86L152.60 157.99L152.85 160.08L153.10 162.08L153.35 163.95L153.60 165.67L153.85 167.20L154.10 168.56L154.35 169.73L154.60 170.73L154.85 171.57L155.10 172.25L155.35 172.76L155.60 173.40" fill="none" stroke="#262626" stroke-width="0.95" stroke-linejoin="round"/>
</g>
<text x="172.45" y="146.10" font-family="Liberation Sans, sans-serif" font-weight="bold" font-size="6.35" fill="#111" stroke="#111" stroke-width="0.15" text-anchor="end">NKG2D</text>
<rect x="0.55" y="179.70" width="39.10" height="34.90" fill="#fff" stroke="#757575" stroke-width="1"/>
<clipPath id="c0_4"><rect x="0.95" y="180.10" width="38.30" height="34.10"/></clipPath>
<g clip-path="url(#c0_4)">
<path d="M3.05 213.60L3.05 213.53L3.30 212.91L3.55 212.44L3.80 211.83L4.05 211.09L4.30 210.21L4.55 209.19L4.80 208.01L5.05 206.68L5.30 205.20L5.55 203.59L5.80 201.88L6.05 200.10L6.30 198.30L6.55 196.54L6.80 194.87L7.05 193.35L7.30 192.03L7.55 190.96L7.80 190.17L8.05 190.56L8.30 191.46L8.55 192.61L8.80 193.99L9.05 195.55L9.30 197.22L9.55 198.95L9.80 200.68L10.05 202.37L10.30 203.97L10.55 205.45L10.80 206.79L11.05 207.99L11.30 209.03L11.55 209.93L11.80 210.69L12.05 211.32L12.30 211.82L12.55 212.58L12.80 212.59L13.05 212.60L13.30 212.62L13.55 212.64L13.80 212.66L14.05 212.68L14.30 212.71L14.55 212.73L14.80 212.76L15.05 212.79L15.30 212.82L15.55 212.85L15.80 212.89L16.05 212.92L16.30 212.95L16.55 212.99L16.80 213.02L17.05 213.05L17.30 213.09L17.55 213.12L17.80 213.15L18.05 213.18L18.30 213.21L18.55 213.24L18.80 213.27L19.05 213.30L19.30 213.32L19.55 213.35L19.80 213.37L20.05 213.39L20.30 213.42L20.55 213.43L20.80 213.45L20.80 213.60Z" fill="#b4b4b4" stroke="#222" stroke-width="1.15" stroke-linejoin="round"/>
<path d="M2.80 213.60L3.05 213.44L3.30 213.31L3.55 213.15L3.80 212.95L4.05 212.70L4.30 212.42L4.55 212.09L4.80 211.73L5.05 211.35L5.30 210.95L5.55 210.57L5.80 210.22L6.05 208.84L6.30 207.73L6.55 206.45L6.80 205.22L7.05 203.79L7.30 202.13L7.55 200.22L7.80 198.08L8.05 195.74L8.30 193.27L8.55 190.76L8.80 188.34L9.05 186.13L9.30 184.26L9.55 182.83L9.80 182.27L10.05 183.71L10.30 185.70L10.55 187.98L10.80 190.59L11.05 193.41L11.30 196.29L11.55 199.11L11.80 201.76L12.05 204.19L12.30 206.34L12.55 208.19L12.80 209.74L13.05 211.02L13.30 212.04L13.55 212.80L13.80 213.60" fill="none" stroke="#262626" stroke-width="0.95" stroke-linejoin="round"/>
</g>
<text x="38.65" y="186.30" font-family="Liberation Sans, sans-serif" font-weight="bold" font-size="6.35" fill="#111" stroke="#111" stroke-width="0.15" text-anchor="end">CD62L</text>
<rect x="45.15" y="179.70" width="39.10" height="34.90" fill="#fff" stroke="#757575" stroke-width="1"/>
<clipPath id="c1_4"><rect x="45.55" y="180.10" width="38.30" height="34.10"/></clipPath>
<g clip-path="url(#c1_4)">
<path d="M46.90 213.60L46.90 213.60L47.15 213.31L47.40 213.01L47.65 212.61L47.90 212.08L48.15 211.44L48.40 210.69L48.65 209.86L48.90 209.01L49.15 208.21L49.40 207.55L49.65 207.07L49.90 207.15L50.15 207.66L50.40 208.16L50.65 208.72L50.90 209.21L51.15 209.55L51.40 209.70L51.65 209.61L51.90 209.29L52.15 208.77L52.40 208.10L52.65 207.42L52.90 206.60L53.15 205.19L53.40 204.40L53.65 204.26L53.90 204.39L54.15 204.65L54.40 204.96L54.65 205.26L54.90 205.48L55.15 205.56L55.40 205.47L55.65 205.19L55.90 204.72L56.15 204.07L56.40 203.25L56.65 202.38L56.90 201.17L57.15 199.93L57.40 198.68L57.65 197.42L57.90 196.18L58.15 194.97L58.40 193.81L58.65 192.72L58.90 191.71L59.15 190.80L59.40 190.00L59.65 189.32L59.90 188.78L60.15 188.75L60.40 189.51L60.65 190.50L60.90 191.71L61.15 193.09L61.40 194.62L61.65 196.25L61.90 197.94L62.15 199.64L62.40 201.31L62.65 202.93L62.90 204.46L63.15 205.89L63.40 207.19L63.65 208.37L63.90 209.42L64.15 210.34L64.40 211.14L64.65 211.82L64.90 212.40L65.15 212.86L65.40 213.60L65.40 213.60Z" fill="#b4b4b4" stroke="#222" stroke-width="1.15" stroke-linejoin="round"/>
<path d="M46.90 213.60L47.15 213.37L47.40 213.03L47.65 212.53L47.90 211.87L48.15 211.03L48.40 210.03L48.65 208.94L48.90 207.85L49.15 206.90L49.40 206.19L49.65 206.09L49.90 206.73L50.15 207.65L50.40 208.71L50.65 209.52L50.90 210.17L51.15 210.52L51.40 210.53L51.65 210.19L51.90 209.51L52.15 208.62L52.40 207.38L52.65 206.17L52.90 205.11L53.15 203.35L53.40 202.58L53.65 202.68L53.90 203.00L54.15 203.44L54.40 203.90L54.65 204.26L54.90 204.42L55.15 204.34L55.40 203.98L55.65 203.35L55.90 202.46L56.15 201.52L56.40 200.01L56.65 198.43L56.90 196.81L57.15 195.15L57.40 193.49L57.65 191.84L57.90 190.23L58.15 188.69L58.40 187.24L58.65 185.90L58.90 184.70L59.15 183.65L59.40 182.78L59.65 182.08L59.90 182.32L60.15 183.35L60.40 184.66L60.65 186.23L60.90 188.03L61.15 189.99L61.40 192.07L61.65 194.21L61.90 196.36L62.15 198.47L62.40 200.50L62.65 202.41L62.90 204.19L63.15 205.80L63.40 207.26L63.65 208.55L63.90 209.69L64.15 210.67L64.40 211.51L64.65 212.20L64.90 212.75L65.15 213.60" fill="none" stroke="#262626" stroke-width="0.95" stroke-linejoin="round"/>
</g>
<text x="82.05" y="186.30" font-family="Liberation Sans, sans-serif" font-weight="bold" font-size="6.35" fill="#111" stroke="#111" stroke-width="0.15" text-anchor="end">CD2</text>
<rect x="90.25" y="179.70" width="39.10" height="34.90" fill="#fff" stroke="#757575" stroke-width="1"/>
<clipPath id="c2_4"><rect x="90.65" y="180.10" width="38.30" height="34.10"/></clipPath>
<g clip-path="url(#c2_4)">
<path d="M98.00 213.60L98.00 213.60L98.25 212.94L98.50 212.64L98.75 212.27L99.00 211.84L99.25 211.34L99.50 210.78L99.75 210.16L100.00 209.48L100.25 208.72L100.50 207.90L100.75 207.00L101.00 206.03L101.25 204.99L101.50 203.89L101.75 202.72L102.00 201.48L102.25 200.20L102.50 198.88L102.75 197.52L103.00 196.14L103.25 194.75L103.50 193.38L103.75 192.03L104.00 190.72L104.25 189.47L104.50 188.29L104.75 187.21L105.00 186.22L105.25 185.35L105.50 184.61L105.75 183.99L106.00 183.69L106.25 184.22L106.50 184.89L106.75 185.69L107.00 186.60L107.25 187.63L107.50 188.76L107.75 189.96L108.00 191.24L108.25 192.56L108.50 193.93L108.75 195.31L109.00 196.69L109.25 198.06L109.50 199.41L109.75 200.72L110.00 201.98L110.25 203.19L110.50 204.34L110.75 205.42L111.00 206.43L111.25 207.37L111.50 208.23L111.75 209.03L112.00 209.76L112.25 210.42L112.50 211.01L112.75 211.55L113.00 212.02L113.25 212.43L113.50 212.77L113.75 213.60L113.75 213.60Z" fill="#b4b4b4" stroke="#222" stroke-width="1.15" stroke-linejoin="round"/>
<path d="M100.00 213.60L100.25 212.87L100.50 212.48L100.75 212.00L101.00 211.43L101.25 210.78L101.50 210.04L101.75 209.21L102.00 208.28L102.25 207.25L102.50 206.12L102.75 204.90L103.00 203.58L103.25 202.17L103.50 200.69L103.75 199.14L104.00 197.55L104.25 195.93L104.50 194.31L104.75 192.72L105.00 191.18L105.25 189.72L105.50 188.37L105.75 187.15L106.00 186.08L106.25 185.17L106.50 184.45L106.75 184.33L107.00 185.01L107.25 185.88L107.50 186.92L107.75 188.11L108.00 189.44L108.25 190.88L108.50 192.41L108.75 193.99L109.00 195.61L109.25 197.22L109.50 198.82L109.75 200.38L110.00 201.88L110.25 203.30L110.50 204.64L110.75 205.89L111.00 207.03L111.25 208.08L111.50 209.03L111.75 209.88L112.00 210.64L112.25 211.31L112.50 211.89L112.75 212.39L113.00 212.80L113.25 213.60" fill="none" stroke="#262626" stroke-width="0.95" stroke-linejoin="round"/>
</g>
<text x="128.35" y="186.30" font-family="Liberation Sans, sans-serif" font-weight="bold" font-size="6.35" fill="#111" stroke="#111" stroke-width="0.15" text-anchor="end">CD7</text>
<rect x="134.35" y="179.70" width="39.10" height="34.90" fill="#fff" stroke="#757575" stroke-width="1"/>
<clipPath id="c3_4"><rect x="134.75" y="180.10" width="38.30" height="34.10"/></clipPath>
<g clip-path="url(#c3_4)">
<path d="M134.35 213.60L134.35 186.58L134.60 186.63L134.85 187.81L135.10 189.26L135.35 190.28L135.60 190.57L135.85 190.22L136.10 189.33L136.35 188.23L136.60 187.37L136.85 187.23L137.10 188.03L137.35 189.09L137.60 190.37L137.85 191.84L138.10 193.46L138.35 195.19L138.60 196.98L138.85 198.78L139.10 200.56L139.35 202.28L139.60 203.90L139.85 205.42L140.10 206.80L140.35 208.05L140.60 209.16L140.85 210.14L141.10 210.99L141.35 211.71L141.60 212.32L141.85 212.81L142.10 213.60L142.10 213.60Z" fill="#b4b4b4" stroke="#222" stroke-width="1.15" stroke-linejoin="round"/>
<path d="M135.85 213.60L136.10 213.00L136.35 212.63L136.60 212.15L136.85 211.58L137.10 210.90L137.35 210.13L137.60 209.25L137.85 208.27L138.10 207.17L138.35 205.96L138.60 204.64L138.85 203.22L139.10 201.72L139.35 200.14L139.60 198.52L139.85 196.87L140.10 195.23L140.35 193.64L140.60 192.12L140.85 190.70L141.10 189.43L141.35 188.32L141.60 187.40L141.85 186.69L142.10 186.82L142.35 187.57L142.60 188.53L142.85 189.67L143.10 190.97L143.35 192.41L143.60 193.95L143.85 195.56L144.10 197.20L144.35 198.84L144.60 200.46L144.85 202.03L145.10 203.51L145.35 204.91L145.60 206.21L145.85 207.40L146.10 208.47L146.35 209.44L146.60 210.29L146.85 211.05L147.10 211.70L147.35 212.26L147.60 212.71L147.85 213.60" fill="none" stroke="#262626" stroke-width="0.95" stroke-linejoin="round"/>
</g>
<text x="171.75" y="186.30" font-family="Liberation Sans, sans-serif" font-weight="bold" font-size="6.35" fill="#111" stroke="#111" stroke-width="0.15" text-anchor="end">CD8</text>
<rect x="0.55" y="219.80" width="39.10" height="34.90" fill="#fff" stroke="#757575" stroke-width="1"/>
<clipPath id="c0_5"><rect x="0.95" y="220.20" width="38.30" height="34.10"/></clipPath>
<g clip-path="url(#c0_5)">
<path d="M0.55 253.70L0.55 252.89L0.80 252.80L1.05 252.71L1.30 252.62L1.55 252.53L1.80 252.43L2.05 252.34L2.30 252.25L2.55 252.16L2.80 252.07L3.05 251.99L3.30 251.25L3.55 250.89L3.80 250.47L4.05 250.00L4.30 249.48L4.55 248.92L4.80 248.36L5.05 247.75L5.30 247.09L5.55 246.37L5.80 245.59L6.05 244.75L6.30 243.85L6.55 242.89L6.80 241.88L7.05 240.81L7.30 239.70L7.55 238.56L7.80 237.38L8.05 236.19L8.30 234.99L8.55 233.80L8.80 232.63L9.05 231.50L9.30 230.42L9.55 229.41L9.80 228.48L10.05 227.64L10.30 226.91L10.55 226.29L10.80 225.79L11.05 225.73L11.30 226.30L11.55 226.98L11.80 227.77L12.05 228.67L12.30 229.71L12.55 230.77L12.80 231.91L13.05 233.11L13.30 234.35L13.55 235.63L13.80 236.91L14.05 238.20L14.30 239.48L14.55 240.73L14.80 241.94L15.05 243.11L15.30 244.22L15.55 245.28L15.80 246.27L16.05 247.20L16.30 248.06L16.55 248.85L16.80 249.58L17.05 250.25L17.30 250.85L17.55 251.39L17.80 251.88L18.05 252.31L18.30 252.68L18.55 252.98L18.80 253.70L18.80 253.70Z" fill="#b4b4b4" stroke="#222" stroke-width="1.15" stroke-linejoin="round"/>
<path d="M0.80 253.57L1.05 253.53L1.30 253.49L1.55 253.44L1.80 253.38L2.05 253.32L2.30 253.26L2.55 253.19L2.80 253.11L3.05 253.03L3.30 252.94L3.55 252.86L3.80 252.77L4.05 252.68L4.30 252.59L4.55 252.51L4.80 251.77L5.05 251.37L5.30 250.91L5.55 250.38L5.80 249.80L6.05 249.15L6.30 248.51L6.55 247.79L6.80 247.01L7.05 246.16L7.30 245.23L7.55 244.24L7.80 243.17L8.05 242.03L8.30 240.83L8.55 239.58L8.80 238.28L9.05 236.95L9.30 235.60L9.55 234.26L9.80 232.93L10.05 231.65L10.30 230.42L10.55 229.27L10.80 228.22L11.05 227.28L11.30 226.47L11.55 225.79L11.80 225.26L12.05 225.60L12.30 226.30L12.55 227.09L12.80 228.02L13.05 229.08L13.30 230.24L13.55 231.50L13.80 232.83L14.05 234.21L14.30 235.62L14.55 237.05L14.80 238.47L15.05 239.87L15.30 241.23L15.55 242.55L15.80 243.80L16.05 244.98L16.30 246.08L16.55 247.11L16.80 248.06L17.05 248.93L17.30 249.71L17.55 250.43L17.80 251.07L18.05 251.63L18.30 252.13L18.55 252.56L18.80 252.92L19.05 253.70" fill="none" stroke="#262626" stroke-width="0.95" stroke-linejoin="round"/>
</g>
<text x="37.45" y="226.40" font-family="Liberation Sans, sans-serif" font-weight="bold" font-size="6.35" fill="#111" stroke="#111" stroke-width="0.15" text-anchor="end">CD69</text>
<rect x="45.15" y="219.80" width="39.10" height="34.90" fill="#fff" stroke="#757575" stroke-width="1"/>
<clipPath id="c1_5"><rect x="45.55" y="220.20" width="38.30" height="34.10"/></clipPath>
<g clip-path="url(#c1_5)">
<path d="M51.90 253.70L51.90 253.70L52.15 253.22L52.40 253.02L52.65 252.77L52.90 252.49L53.15 252.17L53.40 251.81L53.65 251.41L53.90 250.98L54.15 250.50L54.40 249.98L54.65 249.41L54.90 248.80L55.15 248.15L55.40 247.46L55.65 246.72L55.90 245.94L56.15 244.96L56.40 243.80L56.65 242.44L56.90 240.90L57.15 239.29L57.40 237.81L57.65 236.81L57.90 236.41L58.15 236.21L58.40 236.02L58.65 235.72L58.90 235.29L59.15 234.80L59.40 234.14L59.65 233.55L59.90 233.04L60.15 232.61L60.40 232.26L60.65 232.46L60.90 232.86L61.15 233.34L61.40 233.89L61.65 234.52L61.90 235.22L62.15 235.97L62.40 236.78L62.65 237.62L62.90 238.50L63.15 239.40L63.40 240.32L63.65 241.24L63.90 242.15L64.15 243.05L64.40 243.94L64.65 244.80L64.90 245.62L65.15 246.41L65.40 247.17L65.65 247.88L65.90 248.55L66.15 249.17L66.40 249.76L66.65 250.29L66.90 250.79L67.15 251.24L67.40 251.66L67.65 252.03L67.90 252.37L68.15 252.66L68.40 252.92L68.65 253.14L68.90 253.70L68.90 253.70Z" fill="#b4b4b4" stroke="#222" stroke-width="1.15" stroke-linejoin="round"/>
<path d="M53.65 253.70L53.90 253.03L54.15 252.59L54.40 252.03L54.65 251.35L54.90 250.56L55.15 249.63L55.40 248.57L55.65 247.39L55.90 246.08L56.15 244.67L56.40 243.18L56.65 241.65L56.90 240.12L57.15 238.64L57.40 237.27L57.65 236.04L57.90 235.01L58.15 233.44L58.40 232.47L58.65 232.35L58.90 232.29L59.15 232.25L59.40 232.19L59.65 232.06L59.90 231.80L60.15 231.38L60.40 230.78L60.65 230.00L60.90 229.06L61.15 228.02L61.40 226.92L61.65 225.86L61.90 224.90L62.15 224.13L62.40 223.59L62.65 223.92L62.90 225.41L63.15 227.38L63.40 229.15L63.65 231.18L63.90 233.38L64.15 235.68L64.40 238.00L64.65 240.26L64.90 242.41L65.15 244.40L65.40 246.20L65.65 247.79L65.90 249.18L66.15 250.37L66.40 251.37L66.65 252.19L66.90 252.83L67.15 253.70" fill="none" stroke="#262626" stroke-width="0.95" stroke-linejoin="round"/>
</g>
<text x="83.25" y="226.40" font-family="Liberation Sans, sans-serif" font-weight="bold" font-size="6.35" fill="#111" stroke="#111" stroke-width="0.15" text-anchor="end">CD161</text>
<rect x="90.25" y="219.80" width="39.10" height="34.90" fill="#fff" stroke="#757575" stroke-width="1"/>
<clipPath id="c2_5"><rect x="90.65" y="220.20" width="38.30" height="34.10"/></clipPath>
<g clip-path="url(#c2_5)">
<path d="M90.25 253.70L90.25 248.81L90.50 248.35L90.75 247.84L91.00 247.28L91.25 246.69L91.50 246.19L91.75 245.64L92.00 245.04L92.25 244.40L92.50 243.69L92.75 242.93L93.00 242.11L93.25 241.23L93.50 240.30L93.75 239.30L94.00 238.26L94.25 237.18L94.50 236.06L94.75 234.92L95.00 233.77L95.25 232.62L95.50 231.50L95.75 230.41L96.00 229.38L96.25 228.42L96.50 227.54L96.75 226.76L97.00 226.09L97.25 225.54L97.50 225.12L97.75 225.51L98.00 226.21L98.25 227.02L98.50 227.95L98.75 228.99L99.00 230.21L99.25 231.38L99.50 232.62L99.75 233.91L100.00 235.25L100.25 236.60L100.50 237.95L100.75 239.29L101.00 240.60L101.25 241.87L101.50 243.10L101.75 244.26L102.00 245.36L102.25 246.39L102.50 247.35L102.75 248.24L103.00 249.05L103.25 249.79L103.50 250.47L103.75 251.07L104.00 251.62L104.25 252.09L104.50 252.51L104.75 252.86L105.00 253.70L105.00 253.70Z" fill="#b4b4b4" stroke="#222" stroke-width="1.15" stroke-linejoin="round"/>
<path d="M97.00 253.70L97.25 252.93L97.50 252.51L97.75 251.97L98.00 251.34L98.25 250.60L98.50 249.76L98.75 248.82L99.00 247.76L99.25 246.58L99.50 245.29L99.75 243.89L100.00 242.38L100.25 240.78L100.50 239.09L100.75 237.35L101.00 235.57L101.25 233.78L101.50 232.02L101.75 230.31L102.00 228.68L102.25 227.18L102.50 225.83L102.75 224.66L103.00 223.68L103.25 222.92L103.50 223.05L103.75 223.86L104.00 224.88L104.25 226.09L104.50 227.47L104.75 229.00L105.00 230.64L105.25 232.37L105.50 234.14L105.75 235.93L106.00 237.70L106.25 239.44L106.50 241.11L106.75 242.69L107.00 244.18L107.25 245.56L107.50 246.83L107.75 247.98L108.00 249.01L108.25 249.94L108.50 250.76L108.75 251.47L109.00 252.09L109.25 252.60L109.50 253.00L109.75 253.70" fill="none" stroke="#262626" stroke-width="0.95" stroke-linejoin="round"/>
</g>
<text x="128.35" y="226.40" font-family="Liberation Sans, sans-serif" font-weight="bold" font-size="6.35" fill="#111" stroke="#111" stroke-width="0.15" text-anchor="end">CD226</text>
<rect x="0.55" y="260.00" width="39.10" height="34.30" fill="#fff" stroke="#757575" stroke-width="1"/>
<clipPath id="c0_6"><rect x="0.95" y="260.40" width="38.30" height="33.50"/></clipPath>
<g clip-path="url(#c0_6)">
<path d="M7.30 293.40L7.30 293.40L7.55 292.30L7.80 291.56L8.05 290.63L8.30 289.50L8.55 288.17L8.80 286.62L9.05 284.85L9.30 282.87L9.55 280.71L9.80 278.41L10.05 276.04L10.30 273.66L10.55 271.37L10.80 269.26L11.05 266.93L11.30 264.99L11.55 263.30L11.80 262.79L12.05 263.15L12.30 263.74L12.55 264.49L12.80 265.37L13.05 266.33L13.30 267.32L13.55 268.35L13.80 269.42L14.05 270.53L14.30 271.71L14.55 273.32L14.80 275.53L15.05 277.79L15.30 280.05L15.55 282.26L15.80 284.34L16.05 286.69L16.30 287.98L16.55 289.16L16.80 290.20L17.05 291.08L17.30 291.81L17.55 292.40L17.80 292.85L18.05 293.40L18.05 293.40Z" fill="#b4b4b4" stroke="#222" stroke-width="1.15" stroke-linejoin="round"/>
<path d="M18.05 293.40L18.30 292.85L18.55 292.58L18.80 292.24L19.05 291.84L19.30 291.38L19.55 290.86L19.80 290.28L20.05 289.63L20.30 288.92L20.55 288.14L20.80 287.29L21.05 286.37L21.30 285.39L21.55 284.34L21.80 283.23L22.05 282.07L22.30 280.87L22.55 279.64L22.80 278.39L23.05 277.13L23.30 275.88L23.55 274.67L23.80 273.50L24.05 272.39L24.30 271.35L24.55 270.41L24.80 269.58L25.05 268.86L25.30 268.27L25.55 267.80L25.80 268.27L26.05 268.86L26.30 269.58L26.55 270.41L26.80 271.35L27.05 272.39L27.30 273.50L27.55 274.67L27.80 275.88L28.05 277.13L28.30 278.39L28.55 279.64L28.80 280.87L29.05 282.07L29.30 283.23L29.55 284.34L29.80 285.39L30.05 286.37L30.30 287.29L30.55 288.14L30.80 288.92L31.05 289.63L31.30 290.28L31.55 290.86L31.80 291.38L32.05 291.84L32.30 292.24L32.55 292.58L32.80 292.85L33.05 293.40" fill="none" stroke="#262626" stroke-width="0.95" stroke-linejoin="round"/>
</g>
<text x="38.65" y="266.60" font-family="Liberation Sans, sans-serif" font-weight="bold" font-size="6.35" fill="#111" stroke="#111" stroke-width="0.15" text-anchor="end">NKp30</text>
<rect x="45.15" y="260.00" width="39.10" height="34.30" fill="#fff" stroke="#757575" stroke-width="1"/>
<clipPath id="c1_6"><rect x="45.55" y="260.40" width="38.30" height="33.50"/></clipPath>
<g clip-path="url(#c1_6)">
<path d="M46.40 293.40L46.40 293.26L46.65 293.17L46.90 293.07L47.15 292.95L47.40 292.81L47.65 292.65L47.90 292.47L48.15 291.24L48.40 290.33L48.65 289.24L48.90 287.97L49.15 286.53L49.40 284.90L49.65 283.09L49.90 281.24L50.15 279.23L50.40 277.09L50.65 274.87L50.90 272.62L51.15 270.41L51.40 268.32L51.65 266.41L51.90 264.77L52.15 263.46L52.40 262.52L52.65 263.21L52.90 264.59L53.15 266.33L53.40 268.39L53.65 270.61L53.90 272.98L54.15 275.41L54.40 277.84L54.65 280.18L54.90 282.37L55.15 284.39L55.40 286.20L55.65 287.79L55.90 289.17L56.15 290.34L56.40 291.32L56.65 292.11L56.90 292.69L57.15 293.40L57.15 293.40Z" fill="#b4b4b4" stroke="#222" stroke-width="1.15" stroke-linejoin="round"/>
<path d="M55.90 293.40L56.15 292.88L56.40 292.66L56.65 292.38L56.90 292.07L57.15 291.71L57.40 291.31L57.65 290.87L57.90 290.38L58.15 289.84L58.40 289.25L58.65 288.61L58.90 287.92L59.15 287.19L59.40 286.42L59.65 285.61L59.90 284.78L60.15 283.92L60.40 283.05L60.65 282.17L60.90 281.31L61.15 280.47L61.40 279.67L61.65 278.91L61.90 278.21L62.15 277.58L62.40 277.02L62.65 276.55L62.90 276.18L63.15 276.11L63.40 276.47L63.65 276.92L63.90 277.46L64.15 278.08L64.40 278.76L64.65 279.51L64.90 280.31L65.15 281.14L65.40 282.00L65.65 282.87L65.90 283.74L66.15 284.60L66.40 285.45L66.65 286.26L66.90 287.04L67.15 287.78L67.40 288.48L67.65 289.12L67.90 289.72L68.15 290.27L68.40 290.78L68.65 291.23L68.90 291.64L69.15 292.00L69.40 292.32L69.65 292.60L69.90 292.84L70.15 293.03L70.40 293.40" fill="none" stroke="#262626" stroke-width="0.95" stroke-linejoin="round"/>
</g>
<text x="83.25" y="266.60" font-family="Liberation Sans, sans-serif" font-weight="bold" font-size="6.35" fill="#111" stroke="#111" stroke-width="0.15" text-anchor="end">NKp44</text>
<rect x="90.25" y="260.00" width="39.10" height="34.30" fill="#fff" stroke="#757575" stroke-width="1"/>
<clipPath id="c2_6"><rect x="90.65" y="260.40" width="38.30" height="33.50"/></clipPath>
<g clip-path="url(#c2_6)">
<path d="M90.50 293.40L90.50 293.26L90.75 293.23L91.00 293.20L91.25 293.16L91.50 293.11L91.75 293.06L92.00 293.01L92.25 292.96L92.50 292.90L92.75 292.84L93.00 292.77L93.25 292.70L93.50 292.62L93.75 292.54L94.00 292.46L94.25 292.37L94.50 292.28L94.75 292.18L95.00 292.09L95.25 291.32L95.50 290.69L95.75 289.90L96.00 288.95L96.25 287.84L96.50 286.55L96.75 285.09L97.00 283.44L97.25 281.63L97.50 279.68L97.75 277.63L98.00 275.52L98.25 273.41L98.50 271.39L98.75 269.51L99.00 267.85L99.25 266.47L99.50 265.40L99.75 265.23L100.00 266.23L100.25 267.55L100.50 269.16L100.75 271.00L101.00 273.00L101.25 275.09L101.50 277.21L101.75 279.28L102.00 281.25L102.25 283.09L102.50 284.77L102.75 286.27L103.00 287.59L103.25 288.74L103.50 289.72L103.75 290.54L104.00 291.21L104.25 292.07L104.50 292.16L104.75 292.26L105.00 292.35L105.25 292.44L105.50 292.52L105.75 292.60L106.00 292.68L106.25 292.75L106.50 292.82L106.75 292.89L107.00 292.95L107.25 293.00L107.50 293.05L107.75 293.10L108.00 293.15L108.25 293.19L108.50 293.22L108.75 293.26L108.75 293.40Z" fill="#b4b4b4" stroke="#222" stroke-width="1.15" stroke-linejoin="round"/>
<path d="M98.00 293.25L98.25 293.22L98.50 293.18L98.75 293.14L99.00 293.09L99.25 293.04L99.50 292.99L99.75 292.93L100.00 292.87L100.25 292.80L100.50 292.73L100.75 292.65L101.00 292.57L101.25 292.49L101.50 292.41L101.75 292.32L102.00 292.22L102.25 291.39L102.50 290.65L102.75 289.71L103.00 288.56L103.25 287.20L103.50 285.61L103.75 283.78L104.00 281.74L104.25 279.49L104.50 277.08L104.75 274.58L105.00 272.06L105.25 269.62L105.50 267.36L105.75 265.37L106.00 263.74L106.25 262.53L106.50 262.74L106.75 264.04L107.00 265.74L107.25 267.79L107.50 270.10L107.75 272.56L108.00 275.08L108.25 277.57L108.50 279.95L108.75 282.16L109.00 284.17L109.25 285.94L109.50 287.49L109.75 288.80L110.00 289.91L110.25 290.82L110.50 291.50L110.75 292.24L111.00 292.33L111.25 292.42L111.50 292.51L111.75 292.59L112.00 292.67L112.25 292.74L112.50 292.81L112.75 292.88L113.00 292.94L113.25 293.00L113.50 293.05L113.75 293.10L114.00 293.14L114.25 293.19L114.50 293.22L114.75 293.26" fill="none" stroke="#262626" stroke-width="0.95" stroke-linejoin="round"/>
</g>
<text x="128.85" y="266.60" font-family="Liberation Sans, sans-serif" font-weight="bold" font-size="6.35" fill="#111" stroke="#111" stroke-width="0.15" text-anchor="end">NKp46</text>
</g>
<text transform="translate(0.6,9.25) scale(1.1,1)" font-family="Liberation Sans, sans-serif" font-weight="bold" font-size="10.4" fill="#111">A</text>
<text transform="translate(186.7,9.3) scale(1.12,1)" font-family="Liberation Sans, sans-serif" font-weight="bold" font-size="10.4" fill="#111">B</text>
<rect x="134.1" y="242.9" width="8.6" height="10.6" fill="#b4b4b4" stroke="#2a2a2a" stroke-width="1.4"/>
<text x="145.6" y="250.95" font-family="Liberation Sans, sans-serif" font-weight="bold" font-size="9.3" fill="#111" stroke="#111" stroke-width="0.2">Day 0</text>
<rect x="134.1" y="261.6" width="8.6" height="10.6" fill="#fff" stroke="#2a2a2a" stroke-width="1.4"/>
<text x="145.6" y="269.65" font-family="Liberation Sans, sans-serif" font-weight="bold" font-size="9.3" fill="#111" stroke="#111" stroke-width="0.2">Day 20</text>
<line x1="211.30" y1="25.70" x2="211.30" y2="233.10" stroke="#5c5c5c" stroke-width="1"/>
<line x1="210.80" y1="232.60" x2="519.50" y2="232.60" stroke="#5c5c5c" stroke-width="1"/>
<line x1="208.30" y1="26.20" x2="211.30" y2="26.20" stroke="#5c5c5c" stroke-width="1"/>
<text transform="translate(208.00,29.45) scale(0.92,1)" font-family="Liberation Sans, sans-serif" font-weight="bold" font-size="9.3" fill="#111" stroke="#111" stroke-width="0.2" text-anchor="end">100</text>
<line x1="208.30" y1="95.00" x2="211.30" y2="95.00" stroke="#5c5c5c" stroke-width="1"/>
<text transform="translate(208.00,98.25) scale(0.92,1)" font-family="Liberation Sans, sans-serif" font-weight="bold" font-size="9.3" fill="#111" stroke="#111" stroke-width="0.2" text-anchor="end">10</text>
<line x1="208.30" y1="164.10" x2="211.30" y2="164.10" stroke="#5c5c5c" stroke-width="1"/>
<text transform="translate(208.00,167.35) scale(0.92,1)" font-family="Liberation Sans, sans-serif" font-weight="bold" font-size="9.3" fill="#111" stroke="#111" stroke-width="0.2" text-anchor="end">1</text>
<line x1="208.30" y1="232.60" x2="211.30" y2="232.60" stroke="#5c5c5c" stroke-width="1"/>
<text transform="translate(208.00,235.85) scale(0.92,1)" font-family="Liberation Sans, sans-serif" font-weight="bold" font-size="9.3" fill="#111" stroke="#111" stroke-width="0.2" text-anchor="end">0.1</text>
<text transform="translate(193.45,127.85) rotate(-90) scale(1,0.95)" font-family="Liberation Sans, sans-serif" font-weight="bold" font-size="9.05" fill="#111" stroke="#111" stroke-width="0.12" text-anchor="middle">MFI Ratio (Day20 / Day0)</text>
<line x1="211.80" y1="164.10" x2="519" y2="164.10" stroke="#1a1a1a" stroke-width="1.3" stroke-dasharray="1.5 1.5"/>
<line x1="216.50" y1="232.60" x2="216.50" y2="236.20" stroke="#5c5c5c" stroke-width="1"/>
<circle cx="216.50" cy="133.20" r="2.2" fill="none" stroke="#333" stroke-width="1.1"/>
<circle cx="216.50" cy="144.50" r="2.2" fill="none" stroke="#333" stroke-width="1.1"/>
<circle cx="216.50" cy="157.50" r="2.2" fill="none" stroke="#333" stroke-width="1.1"/>
<circle cx="216.50" cy="165.40" r="2.2" fill="none" stroke="#333" stroke-width="1.1"/>
<circle cx="216.50" cy="174.30" r="2.2" fill="none" stroke="#333" stroke-width="1.1"/>
<circle cx="216.50" cy="185.20" r="2.2" fill="none" stroke="#333" stroke-width="1.1"/>
<line x1="212.70" y1="164.20" x2="220.30" y2="164.20" stroke="#111" stroke-width="1.5"/>
<text transform="translate(219.05,238.3) rotate(-90)" font-family="Liberation Sans, sans-serif" font-weight="bold" font-size="9.0" fill="#111" stroke="#111" stroke-width="0.15" text-anchor="end">CD57</text>
<line x1="231.60" y1="232.60" x2="231.60" y2="236.20" stroke="#5c5c5c" stroke-width="1"/>
<circle cx="231.60" cy="118.50" r="2.2" fill="none" stroke="#333" stroke-width="1.1"/>
<circle cx="231.60" cy="126.80" r="2.2" fill="none" stroke="#333" stroke-width="1.1"/>
<circle cx="231.60" cy="133.30" r="2.2" fill="none" stroke="#333" stroke-width="1.1"/>
<circle cx="231.60" cy="139.80" r="2.2" fill="none" stroke="#333" stroke-width="1.1"/>
<circle cx="231.60" cy="149.30" r="2.2" fill="none" stroke="#333" stroke-width="1.1"/>
<line x1="227.80" y1="128.30" x2="235.40" y2="128.30" stroke="#111" stroke-width="1.5"/>
<text transform="translate(234.15,238.3) rotate(-90)" font-family="Liberation Sans, sans-serif" font-weight="bold" font-size="9.0" fill="#111" stroke="#111" stroke-width="0.15" text-anchor="end">**2B4</text>
<line x1="242.10" y1="232.60" x2="242.10" y2="236.20" stroke="#5c5c5c" stroke-width="1"/>
<circle cx="242.10" cy="96.50" r="2.2" fill="none" stroke="#333" stroke-width="1.1"/>
<circle cx="242.10" cy="108.30" r="2.2" fill="none" stroke="#333" stroke-width="1.1"/>
<circle cx="242.10" cy="143.50" r="2.2" fill="none" stroke="#333" stroke-width="1.1"/>
<circle cx="242.10" cy="155.30" r="2.2" fill="none" stroke="#333" stroke-width="1.1"/>
<circle cx="242.10" cy="158.20" r="2.2" fill="none" stroke="#333" stroke-width="1.1"/>
<circle cx="242.10" cy="160.60" r="2.2" fill="none" stroke="#333" stroke-width="1.1"/>
<line x1="238.30" y1="153.30" x2="245.90" y2="153.30" stroke="#111" stroke-width="1.5"/>
<text transform="translate(244.65,238.3) rotate(-90)" font-family="Liberation Sans, sans-serif" font-weight="bold" font-size="9.0" fill="#111" stroke="#111" stroke-width="0.15" text-anchor="end">CD2</text>
<line x1="252.80" y1="232.60" x2="252.80" y2="236.20" stroke="#5c5c5c" stroke-width="1"/>
<circle cx="252.80" cy="142.60" r="2.2" fill="none" stroke="#333" stroke-width="1.1"/>
<circle cx="252.80" cy="145.80" r="2.2" fill="none" stroke="#333" stroke-width="1.1"/>
<circle cx="252.80" cy="164.20" r="2.2" fill="none" stroke="#333" stroke-width="1.1"/>
<circle cx="252.80" cy="172.80" r="2.2" fill="none" stroke="#333" stroke-width="1.1"/>
<circle cx="252.80" cy="175.10" r="2.2" fill="none" stroke="#333" stroke-width="1.1"/>
<circle cx="252.80" cy="186.90" r="2.2" fill="none" stroke="#333" stroke-width="1.1"/>
<line x1="249.00" y1="164.20" x2="256.60" y2="164.20" stroke="#111" stroke-width="1.5"/>
<text transform="translate(255.35,238.3) rotate(-90)" font-family="Liberation Sans, sans-serif" font-weight="bold" font-size="9.0" fill="#111" stroke="#111" stroke-width="0.15" text-anchor="end">CD7</text>
<line x1="263.40" y1="232.60" x2="263.40" y2="236.20" stroke="#5c5c5c" stroke-width="1"/>
<circle cx="263.40" cy="132.00" r="2.2" fill="none" stroke="#333" stroke-width="1.1"/>
<circle cx="263.40" cy="132.80" r="2.2" fill="none" stroke="#333" stroke-width="1.1"/>
<circle cx="263.40" cy="138.50" r="2.2" fill="none" stroke="#333" stroke-width="1.1"/>
<circle cx="263.40" cy="142.60" r="2.2" fill="none" stroke="#333" stroke-width="1.1"/>
<circle cx="263.40" cy="144.00" r="2.2" fill="none" stroke="#333" stroke-width="1.1"/>
<circle cx="263.40" cy="163.50" r="2.2" fill="none" stroke="#333" stroke-width="1.1"/>
<line x1="259.60" y1="140.30" x2="267.20" y2="140.30" stroke="#111" stroke-width="1.5"/>
<text transform="translate(265.95,238.3) rotate(-90)" font-family="Liberation Sans, sans-serif" font-weight="bold" font-size="9.0" fill="#111" stroke="#111" stroke-width="0.15" text-anchor="end">**CD8</text>
<line x1="274.10" y1="232.60" x2="274.10" y2="236.20" stroke="#5c5c5c" stroke-width="1"/>
<circle cx="274.10" cy="129.60" r="2.2" fill="none" stroke="#333" stroke-width="1.1"/>
<circle cx="274.10" cy="136.90" r="2.2" fill="none" stroke="#333" stroke-width="1.1"/>
<circle cx="274.10" cy="138.20" r="2.2" fill="none" stroke="#333" stroke-width="1.1"/>
<circle cx="274.10" cy="141.50" r="2.2" fill="none" stroke="#333" stroke-width="1.1"/>
<circle cx="274.10" cy="148.50" r="2.2" fill="none" stroke="#333" stroke-width="1.1"/>
<circle cx="274.10" cy="162.90" r="2.2" fill="none" stroke="#333" stroke-width="1.1"/>
<line x1="270.30" y1="140.30" x2="277.90" y2="140.30" stroke="#111" stroke-width="1.5"/>
<text transform="translate(276.65,238.3) rotate(-90)" font-family="Liberation Sans, sans-serif" font-weight="bold" font-size="9.0" fill="#111" stroke="#111" stroke-width="0.15" text-anchor="end">**CD16</text>
<line x1="284.80" y1="232.60" x2="284.80" y2="236.20" stroke="#5c5c5c" stroke-width="1"/>
<circle cx="284.80" cy="147.80" r="2.2" fill="none" stroke="#333" stroke-width="1.1"/>
<circle cx="284.80" cy="163.00" r="2.2" fill="none" stroke="#333" stroke-width="1.1"/>
<circle cx="284.80" cy="164.80" r="2.2" fill="none" stroke="#333" stroke-width="1.1"/>
<circle cx="284.80" cy="170.20" r="2.2" fill="none" stroke="#333" stroke-width="1.1"/>
<circle cx="284.80" cy="174.50" r="2.2" fill="none" stroke="#333" stroke-width="1.1"/>
<circle cx="284.80" cy="183.90" r="2.2" fill="none" stroke="#333" stroke-width="1.1"/>
<line x1="281.00" y1="169.40" x2="288.60" y2="169.40" stroke="#111" stroke-width="1.5"/>
<text transform="translate(287.35,238.3) rotate(-90)" font-family="Liberation Sans, sans-serif" font-weight="bold" font-size="9.0" fill="#111" stroke="#111" stroke-width="0.15" text-anchor="end">CD62L</text>
<line x1="295.70" y1="232.60" x2="295.70" y2="236.20" stroke="#5c5c5c" stroke-width="1"/>
<circle cx="295.70" cy="135.50" r="2.2" fill="none" stroke="#333" stroke-width="1.1"/>
<circle cx="295.70" cy="151.80" r="2.2" fill="none" stroke="#333" stroke-width="1.1"/>
<circle cx="295.70" cy="156.10" r="2.2" fill="none" stroke="#333" stroke-width="1.1"/>
<circle cx="295.70" cy="158.30" r="2.2" fill="none" stroke="#333" stroke-width="1.1"/>
<circle cx="295.70" cy="162.30" r="2.2" fill="none" stroke="#333" stroke-width="1.1"/>
<line x1="291.90" y1="155.30" x2="299.50" y2="155.30" stroke="#111" stroke-width="1.5"/>
<text transform="translate(298.25,238.3) rotate(-90)" font-family="Liberation Sans, sans-serif" font-weight="bold" font-size="9.0" fill="#111" stroke="#111" stroke-width="0.15" text-anchor="end">CD69</text>
<line x1="306.40" y1="232.60" x2="306.40" y2="236.20" stroke="#5c5c5c" stroke-width="1"/>
<circle cx="306.40" cy="131.10" r="2.2" fill="none" stroke="#333" stroke-width="1.1"/>
<circle cx="306.40" cy="147.30" r="2.2" fill="none" stroke="#333" stroke-width="1.1"/>
<circle cx="306.40" cy="159.80" r="2.2" fill="none" stroke="#333" stroke-width="1.1"/>
<circle cx="306.40" cy="165.30" r="2.2" fill="none" stroke="#333" stroke-width="1.1"/>
<circle cx="306.40" cy="179.30" r="2.2" fill="none" stroke="#333" stroke-width="1.1"/>
<circle cx="306.40" cy="195.80" r="2.2" fill="none" stroke="#333" stroke-width="1.1"/>
<line x1="302.60" y1="164.70" x2="310.20" y2="164.70" stroke="#111" stroke-width="1.5"/>
<text transform="translate(308.95,238.3) rotate(-90)" font-family="Liberation Sans, sans-serif" font-weight="bold" font-size="9.0" fill="#111" stroke="#111" stroke-width="0.15" text-anchor="end">CD161</text>
<line x1="317.20" y1="232.60" x2="317.20" y2="236.20" stroke="#5c5c5c" stroke-width="1"/>
<circle cx="317.20" cy="128.20" r="2.2" fill="none" stroke="#333" stroke-width="1.1"/>
<circle cx="317.20" cy="130.80" r="2.2" fill="none" stroke="#333" stroke-width="1.1"/>
<circle cx="317.20" cy="133.20" r="2.2" fill="none" stroke="#333" stroke-width="1.1"/>
<circle cx="317.20" cy="137.40" r="2.2" fill="none" stroke="#333" stroke-width="1.1"/>
<circle cx="317.20" cy="149.20" r="2.2" fill="none" stroke="#333" stroke-width="1.1"/>
<circle cx="317.20" cy="150.00" r="2.2" fill="none" stroke="#333" stroke-width="1.1"/>
<line x1="313.40" y1="136.20" x2="321.00" y2="136.20" stroke="#111" stroke-width="1.5"/>
<text transform="translate(319.75,238.3) rotate(-90)" font-family="Liberation Sans, sans-serif" font-weight="bold" font-size="9.0" fill="#111" stroke="#111" stroke-width="0.15" text-anchor="end">**CD226</text>
<line x1="327.90" y1="232.60" x2="327.90" y2="236.20" stroke="#5c5c5c" stroke-width="1"/>
<circle cx="327.90" cy="139.30" r="2.2" fill="none" stroke="#333" stroke-width="1.1"/>
<circle cx="327.90" cy="158.80" r="2.2" fill="none" stroke="#333" stroke-width="1.1"/>
<circle cx="327.90" cy="166.20" r="2.2" fill="none" stroke="#333" stroke-width="1.1"/>
<circle cx="327.90" cy="170.00" r="2.2" fill="none" stroke="#333" stroke-width="1.1"/>
<circle cx="327.90" cy="177.40" r="2.2" fill="none" stroke="#333" stroke-width="1.1"/>
<circle cx="327.90" cy="183.80" r="2.2" fill="none" stroke="#333" stroke-width="1.1"/>
<circle cx="327.90" cy="198.90" r="2.2" fill="none" stroke="#333" stroke-width="1.1"/>
<line x1="324.10" y1="169.50" x2="331.70" y2="169.50" stroke="#111" stroke-width="1.5"/>
<text transform="translate(330.45,238.3) rotate(-90)" font-family="Liberation Sans, sans-serif" font-weight="bold" font-size="9.0" fill="#111" stroke="#111" stroke-width="0.15" text-anchor="end">LFA-1</text>
<line x1="338.60" y1="232.60" x2="338.60" y2="236.20" stroke="#5c5c5c" stroke-width="1"/>
<circle cx="338.60" cy="110.50" r="2.2" fill="none" stroke="#333" stroke-width="1.1"/>
<circle cx="338.60" cy="117.70" r="2.2" fill="none" stroke="#333" stroke-width="1.1"/>
<circle cx="338.60" cy="119.30" r="2.2" fill="none" stroke="#333" stroke-width="1.1"/>
<circle cx="338.60" cy="128.50" r="2.2" fill="none" stroke="#333" stroke-width="1.1"/>
<circle cx="338.60" cy="132.00" r="2.2" fill="none" stroke="#333" stroke-width="1.1"/>
<circle cx="338.60" cy="140.50" r="2.2" fill="none" stroke="#333" stroke-width="1.1"/>
<circle cx="338.60" cy="144.40" r="2.2" fill="none" stroke="#333" stroke-width="1.1"/>
<line x1="334.80" y1="129.20" x2="342.40" y2="129.20" stroke="#111" stroke-width="1.5"/>
<text transform="translate(341.15,238.3) rotate(-90)" font-family="Liberation Sans, sans-serif" font-weight="bold" font-size="9.0" fill="#111" stroke="#111" stroke-width="0.15" text-anchor="end">**NKG2C</text>
<line x1="349.30" y1="232.60" x2="349.30" y2="236.20" stroke="#5c5c5c" stroke-width="1"/>
<circle cx="349.30" cy="104.60" r="2.2" fill="none" stroke="#333" stroke-width="1.1"/>
<circle cx="349.30" cy="112.30" r="2.2" fill="none" stroke="#333" stroke-width="1.1"/>
<circle cx="349.30" cy="125.40" r="2.2" fill="none" stroke="#333" stroke-width="1.1"/>
<circle cx="349.30" cy="128.00" r="2.2" fill="none" stroke="#333" stroke-width="1.1"/>
<circle cx="349.30" cy="139.80" r="2.2" fill="none" stroke="#333" stroke-width="1.1"/>
<circle cx="349.30" cy="153.10" r="2.2" fill="none" stroke="#333" stroke-width="1.1"/>
<line x1="345.50" y1="126.20" x2="353.10" y2="126.20" stroke="#111" stroke-width="1.5"/>
<text transform="translate(351.85,238.3) rotate(-90)" font-family="Liberation Sans, sans-serif" font-weight="bold" font-size="9.0" fill="#111" stroke="#111" stroke-width="0.15" text-anchor="end">**NKG2D</text>
<line x1="360.10" y1="232.60" x2="360.10" y2="236.20" stroke="#5c5c5c" stroke-width="1"/>
<circle cx="360.10" cy="80.80" r="2.2" fill="none" stroke="#333" stroke-width="1.1"/>
<circle cx="360.10" cy="90.50" r="2.2" fill="none" stroke="#333" stroke-width="1.1"/>
<circle cx="360.10" cy="93.00" r="2.2" fill="none" stroke="#333" stroke-width="1.1"/>
<circle cx="360.10" cy="97.00" r="2.2" fill="none" stroke="#333" stroke-width="1.1"/>
<circle cx="360.10" cy="113.50" r="2.2" fill="none" stroke="#333" stroke-width="1.1"/>
<circle cx="360.10" cy="124.20" r="2.2" fill="none" stroke="#333" stroke-width="1.1"/>
<line x1="356.30" y1="95.70" x2="363.90" y2="95.70" stroke="#111" stroke-width="1.5"/>
<text transform="translate(362.65,238.3) rotate(-90)" font-family="Liberation Sans, sans-serif" font-weight="bold" font-size="9.0" fill="#111" stroke="#111" stroke-width="0.15" text-anchor="end">**NKp30</text>
<line x1="370.90" y1="232.60" x2="370.90" y2="236.20" stroke="#5c5c5c" stroke-width="1"/>
<circle cx="370.90" cy="92.30" r="2.2" fill="none" stroke="#333" stroke-width="1.1"/>
<circle cx="370.90" cy="97.20" r="2.2" fill="none" stroke="#333" stroke-width="1.1"/>
<circle cx="370.90" cy="110.80" r="2.2" fill="none" stroke="#333" stroke-width="1.1"/>
<circle cx="370.90" cy="121.50" r="2.2" fill="none" stroke="#333" stroke-width="1.1"/>
<circle cx="370.90" cy="143.10" r="2.2" fill="none" stroke="#333" stroke-width="1.1"/>
<circle cx="370.90" cy="145.80" r="2.2" fill="none" stroke="#333" stroke-width="1.1"/>
<line x1="367.10" y1="113.70" x2="374.70" y2="113.70" stroke="#111" stroke-width="1.5"/>
<text transform="translate(373.45,238.3) rotate(-90)" font-family="Liberation Sans, sans-serif" font-weight="bold" font-size="9.0" fill="#111" stroke="#111" stroke-width="0.15" text-anchor="end">*NKp44</text>
<line x1="381.80" y1="232.60" x2="381.80" y2="236.20" stroke="#5c5c5c" stroke-width="1"/>
<circle cx="381.80" cy="116.20" r="2.2" fill="none" stroke="#333" stroke-width="1.1"/>
<circle cx="381.80" cy="117.80" r="2.2" fill="none" stroke="#333" stroke-width="1.1"/>
<circle cx="381.80" cy="122.00" r="2.2" fill="none" stroke="#333" stroke-width="1.1"/>
<circle cx="381.80" cy="131.50" r="2.2" fill="none" stroke="#333" stroke-width="1.1"/>
<circle cx="381.80" cy="134.20" r="2.2" fill="none" stroke="#333" stroke-width="1.1"/>
<circle cx="381.80" cy="143.80" r="2.2" fill="none" stroke="#333" stroke-width="1.1"/>
<circle cx="381.80" cy="153.50" r="2.2" fill="none" stroke="#333" stroke-width="1.1"/>
<line x1="378.00" y1="132.00" x2="385.60" y2="132.00" stroke="#111" stroke-width="1.5"/>
<text transform="translate(384.35,238.3) rotate(-90)" font-family="Liberation Sans, sans-serif" font-weight="bold" font-size="9.0" fill="#111" stroke="#111" stroke-width="0.15" text-anchor="end">**NKp46</text>
<line x1="404.80" y1="232.60" x2="404.80" y2="236.20" stroke="#5c5c5c" stroke-width="1"/>
<circle cx="404.80" cy="119.50" r="2.2" fill="none" stroke="#333" stroke-width="1.1"/>
<circle cx="404.80" cy="132.30" r="2.2" fill="none" stroke="#333" stroke-width="1.1"/>
<circle cx="404.80" cy="136.90" r="2.2" fill="none" stroke="#333" stroke-width="1.1"/>
<circle cx="404.80" cy="148.50" r="2.2" fill="none" stroke="#333" stroke-width="1.1"/>
<circle cx="404.80" cy="163.80" r="2.2" fill="none" stroke="#333" stroke-width="1.1"/>
<circle cx="404.80" cy="185.50" r="2.2" fill="none" stroke="#333" stroke-width="1.1"/>
<circle cx="404.80" cy="227.00" r="2.2" fill="none" stroke="#333" stroke-width="1.1"/>
<line x1="401.00" y1="148.50" x2="408.60" y2="148.50" stroke="#111" stroke-width="1.5"/>
<text transform="translate(407.35,238.3) rotate(-90)" font-family="Liberation Sans, sans-serif" font-weight="bold" font-size="9.0" fill="#111" stroke="#111" stroke-width="0.15" text-anchor="end">GL183</text>
<line x1="415.50" y1="232.60" x2="415.50" y2="236.20" stroke="#5c5c5c" stroke-width="1"/>
<circle cx="415.50" cy="157.40" r="2.2" fill="none" stroke="#333" stroke-width="1.1"/>
<circle cx="415.50" cy="160.80" r="2.2" fill="none" stroke="#333" stroke-width="1.1"/>
<circle cx="415.50" cy="168.50" r="2.2" fill="none" stroke="#333" stroke-width="1.1"/>
<circle cx="415.50" cy="175.50" r="2.2" fill="none" stroke="#333" stroke-width="1.1"/>
<circle cx="415.50" cy="180.20" r="2.2" fill="none" stroke="#333" stroke-width="1.1"/>
<circle cx="415.50" cy="195.80" r="2.2" fill="none" stroke="#333" stroke-width="1.1"/>
<circle cx="415.50" cy="211.80" r="2.2" fill="none" stroke="#333" stroke-width="1.1"/>
<line x1="411.70" y1="175.70" x2="419.30" y2="175.70" stroke="#111" stroke-width="1.5"/>
<text transform="translate(418.05,238.3) rotate(-90)" font-family="Liberation Sans, sans-serif" font-weight="bold" font-size="9.0" fill="#111" stroke="#111" stroke-width="0.15" text-anchor="end">KIR2DL1</text>
<line x1="426.30" y1="232.60" x2="426.30" y2="236.20" stroke="#5c5c5c" stroke-width="1"/>
<circle cx="426.30" cy="131.50" r="2.2" fill="none" stroke="#333" stroke-width="1.1"/>
<circle cx="426.30" cy="136.20" r="2.2" fill="none" stroke="#333" stroke-width="1.1"/>
<circle cx="426.30" cy="139.20" r="2.2" fill="none" stroke="#333" stroke-width="1.1"/>
<circle cx="426.30" cy="141.50" r="2.2" fill="none" stroke="#333" stroke-width="1.1"/>
<circle cx="426.30" cy="144.40" r="2.2" fill="none" stroke="#333" stroke-width="1.1"/>
<circle cx="426.30" cy="147.70" r="2.2" fill="none" stroke="#333" stroke-width="1.1"/>
<circle cx="426.30" cy="159.50" r="2.2" fill="none" stroke="#333" stroke-width="1.1"/>
<line x1="422.50" y1="140.80" x2="430.10" y2="140.80" stroke="#111" stroke-width="1.5"/>
<text transform="translate(428.85,238.3) rotate(-90)" font-family="Liberation Sans, sans-serif" font-weight="bold" font-size="9.0" fill="#111" stroke="#111" stroke-width="0.15" text-anchor="end">**KIR2DL3</text>
<line x1="437.00" y1="232.60" x2="437.00" y2="236.20" stroke="#5c5c5c" stroke-width="1"/>
<circle cx="437.00" cy="102.30" r="2.2" fill="none" stroke="#333" stroke-width="1.1"/>
<circle cx="437.00" cy="119.50" r="2.2" fill="none" stroke="#333" stroke-width="1.1"/>
<circle cx="437.00" cy="130.00" r="2.2" fill="none" stroke="#333" stroke-width="1.1"/>
<circle cx="437.00" cy="144.80" r="2.2" fill="none" stroke="#333" stroke-width="1.1"/>
<circle cx="437.00" cy="151.10" r="2.2" fill="none" stroke="#333" stroke-width="1.1"/>
<line x1="433.20" y1="130.00" x2="440.80" y2="130.00" stroke="#111" stroke-width="1.5"/>
<text transform="translate(439.55,238.3) rotate(-90)" font-family="Liberation Sans, sans-serif" font-weight="bold" font-size="9.0" fill="#111" stroke="#111" stroke-width="0.15" text-anchor="end">*Lir-1</text>
<line x1="447.50" y1="232.60" x2="447.50" y2="236.20" stroke="#5c5c5c" stroke-width="1"/>
<circle cx="447.50" cy="151.50" r="2.2" fill="none" stroke="#333" stroke-width="1.1"/>
<circle cx="447.50" cy="159.50" r="2.2" fill="none" stroke="#333" stroke-width="1.1"/>
<circle cx="447.50" cy="163.80" r="2.2" fill="none" stroke="#333" stroke-width="1.1"/>
<circle cx="447.50" cy="166.20" r="2.2" fill="none" stroke="#333" stroke-width="1.1"/>
<circle cx="447.50" cy="177.40" r="2.2" fill="none" stroke="#333" stroke-width="1.1"/>
<circle cx="447.50" cy="184.80" r="2.2" fill="none" stroke="#333" stroke-width="1.1"/>
<circle cx="447.50" cy="191.10" r="2.2" fill="none" stroke="#333" stroke-width="1.1"/>
<line x1="443.70" y1="166.50" x2="451.30" y2="166.50" stroke="#111" stroke-width="1.5"/>
<text transform="translate(450.05,238.3) rotate(-90)" font-family="Liberation Sans, sans-serif" font-weight="bold" font-size="9.0" fill="#111" stroke="#111" stroke-width="0.15" text-anchor="end">NKB1</text>
<line x1="458.40" y1="232.60" x2="458.40" y2="236.20" stroke="#5c5c5c" stroke-width="1"/>
<circle cx="458.40" cy="148.50" r="2.2" fill="none" stroke="#333" stroke-width="1.1"/>
<circle cx="458.40" cy="151.50" r="2.2" fill="none" stroke="#333" stroke-width="1.1"/>
<circle cx="458.40" cy="154.60" r="2.2" fill="none" stroke="#333" stroke-width="1.1"/>
<circle cx="458.40" cy="160.00" r="2.2" fill="none" stroke="#333" stroke-width="1.1"/>
<circle cx="458.40" cy="168.50" r="2.2" fill="none" stroke="#333" stroke-width="1.1"/>
<circle cx="458.40" cy="178.90" r="2.2" fill="none" stroke="#333" stroke-width="1.1"/>
<line x1="454.60" y1="160.00" x2="462.20" y2="160.00" stroke="#111" stroke-width="1.5"/>
<text transform="translate(460.95,238.3) rotate(-90)" font-family="Liberation Sans, sans-serif" font-weight="bold" font-size="9.0" fill="#111" stroke="#111" stroke-width="0.15" text-anchor="end">NKG2A</text>
<line x1="481.20" y1="232.60" x2="481.20" y2="236.20" stroke="#5c5c5c" stroke-width="1"/>
<circle cx="481.20" cy="158.50" r="2.2" fill="none" stroke="#333" stroke-width="1.1"/>
<circle cx="481.20" cy="160.80" r="2.2" fill="none" stroke="#333" stroke-width="1.1"/>
<circle cx="481.20" cy="165.40" r="2.2" fill="none" stroke="#333" stroke-width="1.1"/>
<circle cx="481.20" cy="170.00" r="2.2" fill="none" stroke="#333" stroke-width="1.1"/>
<circle cx="481.20" cy="176.50" r="2.2" fill="none" stroke="#333" stroke-width="1.1"/>
<circle cx="481.20" cy="177.30" r="2.2" fill="none" stroke="#333" stroke-width="1.1"/>
<circle cx="481.20" cy="191.10" r="2.2" fill="none" stroke="#333" stroke-width="1.1"/>
<line x1="477.40" y1="169.70" x2="485.00" y2="169.70" stroke="#111" stroke-width="1.5"/>
<text transform="translate(483.75,238.3) rotate(-90)" font-family="Liberation Sans, sans-serif" font-weight="bold" font-size="9.0" fill="#111" stroke="#111" stroke-width="0.15" text-anchor="end">CCR5</text>
<line x1="492.00" y1="232.60" x2="492.00" y2="236.20" stroke="#5c5c5c" stroke-width="1"/>
<circle cx="492.00" cy="160.50" r="2.2" fill="none" stroke="#333" stroke-width="1.1"/>
<circle cx="492.00" cy="163.80" r="2.2" fill="none" stroke="#333" stroke-width="1.1"/>
<circle cx="492.00" cy="168.00" r="2.2" fill="none" stroke="#333" stroke-width="1.1"/>
<circle cx="492.00" cy="177.70" r="2.2" fill="none" stroke="#333" stroke-width="1.1"/>
<circle cx="492.00" cy="181.50" r="2.2" fill="none" stroke="#333" stroke-width="1.1"/>
<circle cx="492.00" cy="183.80" r="2.2" fill="none" stroke="#333" stroke-width="1.1"/>
<circle cx="492.00" cy="204.20" r="2.2" fill="none" stroke="#333" stroke-width="1.1"/>
<line x1="488.20" y1="180.30" x2="495.80" y2="180.30" stroke="#111" stroke-width="1.5"/>
<text transform="translate(494.55,238.3) rotate(-90)" font-family="Liberation Sans, sans-serif" font-weight="bold" font-size="9.0" fill="#111" stroke="#111" stroke-width="0.15" text-anchor="end">*CCR7</text>
<line x1="502.70" y1="232.60" x2="502.70" y2="236.20" stroke="#5c5c5c" stroke-width="1"/>
<circle cx="502.70" cy="73.80" r="2.2" fill="none" stroke="#333" stroke-width="1.1"/>
<circle cx="502.70" cy="87.40" r="2.2" fill="none" stroke="#333" stroke-width="1.1"/>
<circle cx="502.70" cy="89.50" r="2.2" fill="none" stroke="#333" stroke-width="1.1"/>
<circle cx="502.70" cy="98.20" r="2.2" fill="none" stroke="#333" stroke-width="1.1"/>
<circle cx="502.70" cy="115.40" r="2.2" fill="none" stroke="#333" stroke-width="1.1"/>
<circle cx="502.70" cy="137.40" r="2.2" fill="none" stroke="#333" stroke-width="1.1"/>
<circle cx="502.70" cy="163.80" r="2.2" fill="none" stroke="#333" stroke-width="1.1"/>
<line x1="498.90" y1="98.20" x2="506.50" y2="98.20" stroke="#111" stroke-width="1.5"/>
<text transform="translate(505.25,238.3) rotate(-90)" font-family="Liberation Sans, sans-serif" font-weight="bold" font-size="9.0" fill="#111" stroke="#111" stroke-width="0.15" text-anchor="end">*CXCR3</text>
<line x1="513.40" y1="232.60" x2="513.40" y2="236.20" stroke="#5c5c5c" stroke-width="1"/>
<circle cx="513.40" cy="144.80" r="2.2" fill="none" stroke="#333" stroke-width="1.1"/>
<circle cx="513.40" cy="157.70" r="2.2" fill="none" stroke="#333" stroke-width="1.1"/>
<circle cx="513.40" cy="161.50" r="2.2" fill="none" stroke="#333" stroke-width="1.1"/>
<circle cx="513.40" cy="184.40" r="2.2" fill="none" stroke="#333" stroke-width="1.1"/>
<circle cx="513.40" cy="193.50" r="2.2" fill="none" stroke="#333" stroke-width="1.1"/>
<line x1="509.60" y1="160.80" x2="517.20" y2="160.80" stroke="#111" stroke-width="1.5"/>
<text transform="translate(515.95,238.3) rotate(-90)" font-family="Liberation Sans, sans-serif" font-weight="bold" font-size="9.0" fill="#111" stroke="#111" stroke-width="0.15" text-anchor="end">CXCR4</text>
<rect x="472.8" y="25.6" width="37.8" height="23.8" fill="#f5f5f5" stroke="#7a7a7a" stroke-width="1"/>
<text transform="translate(508.7,34.8) scale(0.96,1)" font-family="Liberation Sans, sans-serif" font-weight="bold" font-size="8.9" fill="#111" stroke="#111" stroke-width="0.12" text-anchor="end">*<tspan font-style="italic">P</tspan> &lt;.05</text>
<text transform="translate(508.7,45.6) scale(0.96,1)" font-family="Liberation Sans, sans-serif" font-weight="bold" font-size="8.9" fill="#111" stroke="#111" stroke-width="0.12" text-anchor="end">**<tspan font-style="italic">P</tspan> &lt; .01</text>
</g>
</svg>
</body></html>
